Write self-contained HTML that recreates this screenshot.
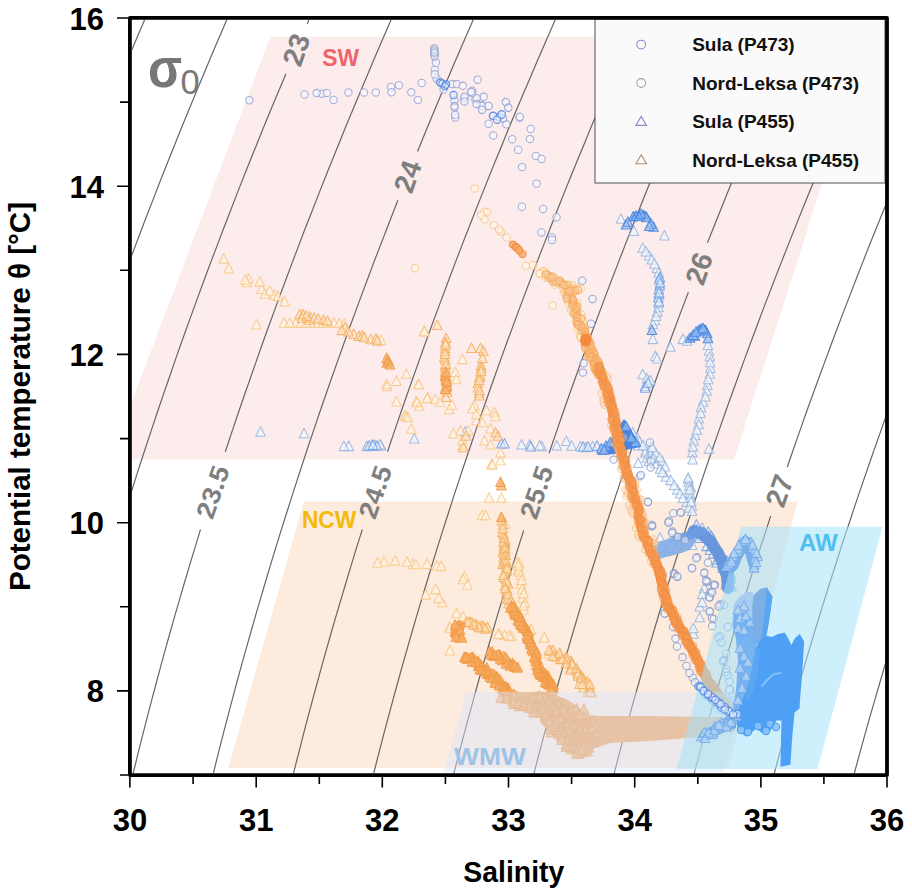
<!DOCTYPE html><html><head><meta charset="utf-8"><style>html,body{margin:0;padding:0;background:#fff;width:912px;height:896px;overflow:hidden}svg{display:block}</style></head><body><svg width="912" height="896" viewBox="0 0 912 896"><defs><clipPath id="pc"><rect x="131.7" y="19.7" width="753.4" height="753.4"/></clipPath></defs>
<g clip-path="url(#pc)">
<polygon points="270.3,36.8 869,36.8 734,459.6 109.7,459.6" fill="#FDECEC"/>
<polygon points="303.8,501.5 797.5,501.5 728.5,768 228.4,768" fill="#FDEBDD"/>
</g>
<g clip-path="url(#pc)" fill="none" stroke="#666" stroke-width="1.2">
<polyline points="149.0,9.6 141.8,26.4 134.6,43.2 127.5,60.1 120.5,76.9 113.5,93.7 106.6,110.5 99.8,127.3 93.0,144.2 86.3,161.0 79.7,177.8 73.2,194.6 66.7,211.5 60.3,228.3 53.9,245.1 47.7,261.9 41.5,278.7 35.4,295.6 29.3,312.4 23.3,329.2 17.4,346.0 11.6,362.9 5.8,379.7 0.1,396.5 -5.5,413.3 -11.0,430.1 -16.5,447.0 -21.9,463.8 -27.2,480.6 -32.5,497.4 -37.6,514.2 -42.7,531.1 -47.7,547.9 -52.7,564.7 -57.6,581.5 -62.3,598.4 -67.1,615.2 -71.7,632.0 -76.3,648.8 -80.7,665.6 -85.1,682.5 -89.5,699.3 -93.7,716.1 -97.9,732.9 -102.0,749.8 -106.0,766.6 -109.9,783.4"/>
<polyline points="231.2,9.6 223.9,26.4 216.7,43.2 209.6,60.1 202.5,76.9 195.5,93.7 188.6,110.5 181.7,127.3 174.9,144.2 168.2,161.0 161.5,177.8 155.0,194.6 148.4,211.5 142.0,228.3 135.6,245.1 129.3,261.9 123.1,278.7 116.9,295.6 110.8,312.4 104.8,329.2 98.8,346.0 93.0,362.9 87.2,379.7 81.4,396.5 75.8,413.3 70.2,430.1 64.7,447.0 59.2,463.8 53.9,480.6 48.6,497.4 43.4,514.2 38.2,531.1 33.2,547.9 28.2,564.7 23.3,581.5 18.4,598.4 13.7,615.2 9.0,632.0 4.4,648.8 -0.2,665.6 -4.6,682.5 -9.0,699.3 -13.3,716.1 -17.5,732.9 -21.7,749.8 -25.7,766.6 -29.7,783.4"/>
<polyline points="313.4,9.6 307.1,24.0"/>
<polyline points="285.9,73.7 284.6,76.9 277.5,93.7 270.5,110.5 263.6,127.3 256.8,144.2 250.0,161.0 243.3,177.8 236.7,194.6 230.2,211.5 223.7,228.3 217.3,245.1 210.9,261.9 204.6,278.7 198.4,295.6 192.3,312.4 186.2,329.2 180.2,346.0 174.3,362.9 168.5,379.7 162.7,396.5 157.0,413.3 151.4,430.1 145.8,447.0 140.3,463.8 134.9,480.6 129.6,497.4 124.3,514.2 119.1,531.1 114.0,547.9 109.0,564.7 104.0,581.5 99.2,598.4 94.3,615.2 89.6,632.0 85.0,648.8 80.4,665.6 75.9,682.5 71.5,699.3 67.1,716.1 62.8,732.9 58.7,749.8 54.5,766.6 50.5,783.4"/>
<polyline points="395.5,9.6 388.2,26.4 380.9,43.2 373.7,60.1 366.6,76.9 359.5,93.7 352.5,110.5 345.5,127.3 338.7,144.2 331.9,161.0 325.1,177.8 318.5,194.6 311.9,211.5 305.3,228.3 298.9,245.1 292.5,261.9 286.2,278.7 279.9,295.6 273.8,312.4 267.6,329.2 261.6,346.0 255.7,362.9 249.8,379.7 243.9,396.5 238.2,413.3 232.5,430.1 226.9,447.0 225.3,451.8"/>
<polyline points="200.5,529.5 200.0,531.1 194.9,547.9 189.8,564.7 184.8,581.5 179.9,598.4 175.0,615.2 170.2,632.0 165.5,648.8 160.9,665.6 156.4,682.5 151.9,699.3 147.5,716.1 143.2,732.9 138.9,749.8 134.8,766.6 130.7,783.4"/>
<polyline points="477.6,9.6 470.3,26.4 463.0,43.2 455.7,60.1 448.5,76.9 441.4,93.7 434.4,110.5 427.4,127.3 420.5,144.2 417.5,151.6"/>
<polyline points="397.9,200.3 393.5,211.5 387.0,228.3 380.5,245.1 374.0,261.9 367.7,278.7 361.4,295.6 355.2,312.4 349.0,329.2 343.0,346.0 337.0,362.9 331.0,379.7 325.2,396.5 319.4,413.3 313.7,430.1 308.0,447.0 302.5,463.8 297.0,480.6 291.6,497.4 286.2,514.2 280.9,531.1 275.7,547.9 270.6,564.7 265.6,581.5 260.6,598.4 255.7,615.2 250.9,632.0 246.1,648.8 241.4,665.6 236.8,682.5 232.3,699.3 227.9,716.1 223.5,732.9 219.2,749.8 215.0,766.6 210.9,783.4"/>
<polyline points="559.7,9.6 552.3,26.4 545.0,43.2 537.7,60.1 530.5,76.9 523.3,93.7 516.2,110.5 509.2,127.3 502.3,144.2 495.4,161.0 488.6,177.8 481.9,194.6 475.2,211.5 468.6,228.3 462.0,245.1 455.6,261.9 449.2,278.7 442.9,295.6 436.6,312.4 430.4,329.2 424.3,346.0 418.3,362.9 412.3,379.7 406.4,396.5 400.6,413.3 394.8,430.1 389.1,447.0 387.5,451.8"/>
<polyline points="362.3,529.5 361.8,531.1 356.5,547.9 351.4,564.7 346.3,581.5 341.3,598.4 336.3,615.2 331.4,632.0 326.6,648.8 321.9,665.6 317.3,682.5 312.7,699.3 308.2,716.1 303.8,732.9 299.5,749.8 295.2,766.6 291.0,783.4"/>
<polyline points="641.8,9.6 634.4,26.4 627.0,43.2 619.7,60.1 612.4,76.9 605.2,93.7 598.1,110.5 591.0,127.3 584.1,144.2 577.1,161.0 570.3,177.8 563.5,194.6 556.8,211.5 550.2,228.3 543.6,245.1 537.1,261.9 530.7,278.7 524.3,295.6 518.0,312.4 511.8,329.2 505.6,346.0 499.5,362.9 493.5,379.7 487.6,396.5 481.7,413.3 475.9,430.1 470.2,447.0 464.5,463.8 458.9,480.6 453.4,497.4 448.0,514.2 442.6,531.1 437.3,547.9 432.1,564.7 427.0,581.5 421.9,598.4 416.9,615.2 412.0,632.0 407.2,648.8 402.4,665.6 397.7,682.5 393.1,699.3 388.6,716.1 384.1,732.9 379.7,749.8 375.4,766.6 371.2,783.4"/>
<polyline points="723.8,9.6 716.4,26.4 708.9,43.2 701.6,60.1 694.3,76.9 687.1,93.7 679.9,110.5 672.8,127.3 665.8,144.2 658.9,161.0 652.0,177.8 645.2,194.6 638.4,211.5 631.7,228.3 625.1,245.1 618.6,261.9 612.1,278.7 605.7,295.6 599.4,312.4 593.1,329.2 586.9,346.0 580.8,362.9 574.7,379.7 568.7,396.5 562.8,413.3 557.0,430.1 551.2,447.0 549.1,453.2"/>
<polyline points="523.7,530.4 523.5,531.1 518.1,547.9 512.9,564.7 507.7,581.5 502.6,598.4 497.5,615.2 492.6,632.0 487.7,648.8 482.9,665.6 478.1,682.5 473.5,699.3 468.9,716.1 464.4,732.9 459.9,749.8 455.6,766.6 451.3,783.4"/>
<polyline points="805.9,9.6 798.3,26.4 790.9,43.2 783.5,60.1 776.2,76.9 768.9,93.7 761.7,110.5 754.6,127.3 747.5,144.2 740.5,161.0 733.6,177.8 726.8,194.6 720.0,211.5 713.3,228.3 707.5,242.8"/>
<polyline points="688.4,292.2 687.1,295.6 680.7,312.4 674.4,329.2 668.2,346.0 662.0,362.9 655.9,379.7 649.9,396.5 643.9,413.3 638.0,430.1 632.2,447.0 626.5,463.8 620.8,480.6 615.2,497.4 609.7,514.2 604.2,531.1 598.9,547.9 593.6,564.7 588.3,581.5 583.2,598.4 578.1,615.2 573.1,632.0 568.2,648.8 563.3,665.6 558.5,682.5 553.8,699.3 549.2,716.1 544.6,732.9 540.1,749.8 535.7,766.6 531.4,783.4"/>
<polyline points="887.8,9.6 880.3,26.4 872.8,43.2 865.4,60.1 858.0,76.9 850.7,93.7 843.5,110.5 836.3,127.3 829.2,144.2 822.2,161.0 815.3,177.8 808.4,194.6 801.5,211.5 794.8,228.3 788.1,245.1 781.5,261.9 774.9,278.7 768.4,295.6 762.0,312.4 755.7,329.2 749.4,346.0 743.2,362.9 737.1,379.7 731.0,396.5 725.0,413.3 719.1,430.1 713.2,447.0 707.4,463.8 701.7,480.6 696.1,497.4 690.5,514.2 685.0,531.1 679.6,547.9 674.3,564.7 669.0,581.5 663.8,598.4 658.6,615.2 653.6,632.0 648.6,648.8 643.7,665.6 638.9,682.5 634.1,699.3 629.4,716.1 624.8,732.9 620.3,749.8 615.9,766.6 611.5,783.4"/>
<polyline points="969.8,9.6 962.2,26.4 954.7,43.2 947.2,60.1 939.8,76.9 932.5,93.7 925.2,110.5 918.0,127.3 910.9,144.2 903.8,161.0 896.9,177.8 889.9,194.6 883.1,211.5 876.3,228.3 869.5,245.1 862.9,261.9 856.3,278.7 849.8,295.6 843.3,312.4 836.9,329.2 830.6,346.0 824.4,362.9 818.2,379.7 812.1,396.5 806.0,413.3 800.1,430.1 794.2,447.0 788.4,463.8 787.2,467.1"/>
<polyline points="770.6,516.3 765.8,531.1 760.3,547.9 754.9,564.7 749.6,581.5 744.4,598.4 739.2,615.2 734.1,632.0 729.1,648.8 724.1,665.6 719.2,682.5 714.4,699.3 709.7,716.1 705.0,732.9 700.5,749.8 696.0,766.6 691.5,783.4"/>
<polyline points="1051.7,9.6 1044.1,26.4 1036.5,43.2 1029.0,60.1 1021.6,76.9 1014.3,93.7 1007.0,110.5 999.7,127.3 992.6,144.2 985.5,161.0 978.4,177.8 971.5,194.6 964.6,211.5 957.7,228.3 951.0,245.1 944.3,261.9 937.6,278.7 931.1,295.6 924.6,312.4 918.2,329.2 911.8,346.0 905.5,362.9 899.3,379.7 893.1,396.5 887.1,413.3 881.1,430.1 875.1,447.0 869.3,463.8 863.5,480.6 857.7,497.4 852.1,514.2 846.5,531.1 841.0,547.9 835.6,564.7 830.2,581.5 824.9,598.4 819.7,615.2 814.5,632.0 809.5,648.8 804.5,665.6 799.5,682.5 794.7,699.3 789.9,716.1 785.2,732.9 780.6,749.8 776.1,766.6 771.6,783.4"/>
<polyline points="1133.6,9.6 1126.0,26.4 1118.4,43.2 1110.8,60.1 1103.4,76.9 1096.0,93.7 1088.6,110.5 1081.4,127.3 1074.2,144.2 1067.0,161.0 1060.0,177.8 1053.0,194.6 1046.0,211.5 1039.2,228.3 1032.4,245.1 1025.6,261.9 1019.0,278.7 1012.4,295.6 1005.8,312.4 999.4,329.2 993.0,346.0 986.6,362.9 980.4,379.7 974.2,396.5 968.1,413.3 962.0,430.1 956.0,447.0 950.1,463.8 944.3,480.6 938.5,497.4 932.8,514.2 927.2,531.1 921.7,547.9 916.2,564.7 910.8,581.5 905.4,598.4 900.2,615.2 895.0,632.0 889.9,648.8 884.8,665.6 879.9,682.5 875.0,699.3 870.1,716.1 865.4,732.9 860.7,749.8 856.1,766.6 851.6,783.4"/>
</g>
<g clip-path="url(#pc)"><path d="M260.5,426.8l4.8,9.5h-9.6zM348.8,441.1l4.8,9.5h-9.6zM375.1,440.1l4.8,9.5h-9.6zM381.0,440.4l4.8,9.5h-9.6zM529.7,439.4l4.8,9.5h-9.6zM541.8,441.3l4.8,9.5h-9.6zM580.4,441.3l4.8,9.5h-9.6zM604.9,443.9l4.8,9.5h-9.6zM645.3,447.4l4.8,9.5h-9.6zM638.2,458.0l4.8,9.5h-9.6zM664.4,230.4l4.8,9.5h-9.6zM649.1,250.4l4.8,9.5h-9.6zM657.0,263.1l4.8,9.5h-9.6zM658.6,302.3l4.8,9.5h-9.6zM655.0,315.3l4.8,9.5h-9.6zM670.4,341.7l4.8,9.5h-9.6zM642.7,369.3l4.8,9.5h-9.6zM682.9,334.1l4.8,9.5h-9.6zM709.0,345.7l4.8,9.5h-9.6zM710.4,363.0l4.8,9.5h-9.6zM707.4,380.0l4.8,9.5h-9.6zM703.1,396.7l4.8,9.5h-9.6zM698.9,413.4l4.8,9.5h-9.6zM695.2,430.2l4.8,9.5h-9.6zM692.3,447.3l4.8,9.5h-9.6zM688.2,473.8l4.8,9.5h-9.6zM637.2,432.3l4.8,9.5h-9.6zM645.8,445.5l4.8,9.5h-9.6zM655.8,458.5l4.8,9.5h-9.6zM665.9,471.8l4.8,9.5h-9.6zM677.3,484.6l4.8,9.5h-9.6zM686.7,497.0l4.8,9.5h-9.6zM651.3,441.9l4.8,9.5h-9.6zM662.1,455.8l4.8,9.5h-9.6zM688.6,476.7l4.8,9.5h-9.6zM689.9,488.6l4.8,9.5h-9.6zM691.7,500.5l4.8,9.5h-9.6zM695.2,523.8l4.8,9.5h-9.6zM704.2,583.1l4.8,9.5h-9.6zM699.7,601.4l4.8,9.5h-9.6zM693.4,628.7l4.8,9.5h-9.6z" fill="#f0f6fd" fill-opacity="0.7" stroke="#98B4DC" stroke-opacity="0.85" stroke-width="1.05" stroke-linejoin="round"/>
<path d="M304.0,428.2l4.8,9.5h-9.6zM366.8,441.1l4.8,9.5h-9.6zM380.0,439.5l4.8,9.5h-9.6zM465.4,426.4l4.8,9.5h-9.6zM539.7,440.4l4.8,9.5h-9.6zM566.3,436.0l4.8,9.5h-9.6zM585.6,442.2l4.8,9.5h-9.6zM638.2,440.4l4.8,9.5h-9.6zM647.0,452.7l4.8,9.5h-9.6zM620.9,213.7l4.8,9.5h-9.6zM642.7,242.7l4.8,9.5h-9.6zM651.9,254.5l4.8,9.5h-9.6zM658.7,267.8l4.8,9.5h-9.6zM657.3,306.6l4.8,9.5h-9.6zM653.0,319.3l4.8,9.5h-9.6zM655.3,350.9l4.8,9.5h-9.6zM646.9,373.5l4.8,9.5h-9.6zM687.1,335.8l4.8,9.5h-9.6zM709.8,351.5l4.8,9.5h-9.6zM709.8,368.7l4.8,9.5h-9.6zM706.7,385.8l4.8,9.5h-9.6zM701.1,402.1l4.8,9.5h-9.6zM698.7,419.2l4.8,9.5h-9.6zM693.8,435.8l4.8,9.5h-9.6zM708.9,443.8l4.8,9.5h-9.6zM690.9,482.5l4.8,9.5h-9.6zM639.5,436.7l4.8,9.5h-9.6zM650.5,449.8l4.8,9.5h-9.6zM660.1,463.7l4.8,9.5h-9.6zM670.6,475.1l4.8,9.5h-9.6zM680.1,488.4l4.8,9.5h-9.6zM688.9,502.6l4.8,9.5h-9.6zM655.3,447.4l4.8,9.5h-9.6zM665.1,461.4l4.8,9.5h-9.6zM689.1,480.7l4.8,9.5h-9.6zM690.4,492.6l4.8,9.5h-9.6zM660.0,532.8l4.8,9.5h-9.6zM702.2,522.8l4.8,9.5h-9.6zM702.2,589.1l4.8,9.5h-9.6zM699.7,612.3l4.8,9.5h-9.6z" fill="#f0f6fd" fill-opacity="0.7" stroke="#98B4DC" stroke-opacity="0.85" stroke-width="1.05" stroke-linejoin="round"/>
<path d="M343.8,441.1l4.8,9.5h-9.6zM371.8,440.1l4.8,9.5h-9.6zM414.2,433.4l4.8,9.5h-9.6zM521.6,439.4l4.8,9.5h-9.6zM556.8,440.4l4.8,9.5h-9.6zM571.6,440.8l4.8,9.5h-9.6zM592.6,441.3l4.8,9.5h-9.6zM652.3,442.2l4.8,9.5h-9.6zM648.8,456.2l4.8,9.5h-9.6zM633.9,226.0l4.8,9.5h-9.6zM645.9,246.5l4.8,9.5h-9.6zM654.5,258.7l4.8,9.5h-9.6zM658.6,297.8l4.8,9.5h-9.6zM656.1,310.9l4.8,9.5h-9.6zM652.8,334.1l4.8,9.5h-9.6zM657.0,353.4l4.8,9.5h-9.6zM650.3,375.2l4.8,9.5h-9.6zM708.0,340.0l4.8,9.5h-9.6zM710.1,357.2l4.8,9.5h-9.6zM708.2,374.3l4.8,9.5h-9.6zM705.4,391.4l4.8,9.5h-9.6zM700.6,407.9l4.8,9.5h-9.6zM696.9,424.7l4.8,9.5h-9.6zM693.0,441.6l4.8,9.5h-9.6zM692.6,454.4l4.8,9.5h-9.6zM632.7,427.4l4.8,9.5h-9.6zM643.0,440.3l4.8,9.5h-9.6zM653.7,453.3l4.8,9.5h-9.6zM662.4,467.1l4.8,9.5h-9.6zM674.2,480.0l4.8,9.5h-9.6zM682.8,493.0l4.8,9.5h-9.6zM692.1,506.0l4.8,9.5h-9.6zM659.7,452.3l4.8,9.5h-9.6zM688.2,472.7l4.8,9.5h-9.6zM689.5,484.6l4.8,9.5h-9.6zM691.1,496.5l4.8,9.5h-9.6zM673.1,535.9l4.8,9.5h-9.6zM692.2,539.9l4.8,9.5h-9.6zM702.2,597.1l4.8,9.5h-9.6zM693.4,623.2l4.8,9.5h-9.6z" fill="#f0f6fd" fill-opacity="0.7" stroke="#98B4DC" stroke-opacity="0.85" stroke-width="1.05" stroke-linejoin="round"/>
<path d="M530.7,441.4l4.8,9.5h-9.6zM377.0,440.8l4.8,9.5h-9.6zM583.0,441.8l4.8,9.5h-9.6zM659.8,272.1l4.8,9.5h-9.6zM659.8,280.3l4.8,9.5h-9.6zM659.2,289.2l4.8,9.5h-9.6zM645.2,381.0l4.8,9.5h-9.6zM655.4,543.9l4.8,9.5h-9.6zM665.5,545.9l4.8,9.5h-9.6zM672.8,539.3l4.8,9.5h-9.6zM681.0,535.3l4.8,9.5h-9.6zM689.4,528.1l4.8,9.5h-9.6zM696.8,529.5l4.8,9.5h-9.6zM708.2,526.8l4.8,9.5h-9.6zM712.9,533.5l4.8,9.5h-9.6zM709.9,545.0l4.8,9.5h-9.6zM718.8,548.1l4.8,9.5h-9.6zM716.5,557.5l4.8,9.5h-9.6zM722.8,562.7l4.8,9.5h-9.6zM730.6,568.2l4.8,9.5h-9.6zM726.3,576.8l4.8,9.5h-9.6z" fill="#e4eefb" fill-opacity="0.6" stroke="#6C9EE4" stroke-opacity="0.85" stroke-width="1.05" stroke-linejoin="round"/>
<path d="M369.0,440.8l4.8,9.5h-9.6zM501.5,438.4l4.8,9.5h-9.6zM588.0,441.8l4.8,9.5h-9.6zM659.3,274.2l4.8,9.5h-9.6zM658.9,284.1l4.8,9.5h-9.6zM658.3,292.5l4.8,9.5h-9.6zM645.2,382.7l4.8,9.5h-9.6zM658.2,542.9l4.8,9.5h-9.6zM667.6,542.6l4.8,9.5h-9.6zM677.2,542.9l4.8,9.5h-9.6zM685.2,538.8l4.8,9.5h-9.6zM696.4,519.6l4.8,9.5h-9.6zM698.3,530.7l4.8,9.5h-9.6zM708.0,530.7l4.8,9.5h-9.6zM706.7,541.1l4.8,9.5h-9.6zM716.9,543.4l4.8,9.5h-9.6zM721.9,549.5l4.8,9.5h-9.6zM726.8,555.7l4.8,9.5h-9.6zM728.1,563.5l4.8,9.5h-9.6zM730.6,571.2l4.8,9.5h-9.6zM725.9,579.4l4.8,9.5h-9.6z" fill="#e4eefb" fill-opacity="0.6" stroke="#6C9EE4" stroke-opacity="0.85" stroke-width="1.05" stroke-linejoin="round"/>
<path d="M373.0,439.8l4.8,9.5h-9.6zM504.5,438.4l4.8,9.5h-9.6zM597.0,440.8l4.8,9.5h-9.6zM660.1,277.4l4.8,9.5h-9.6zM659.0,287.4l4.8,9.5h-9.6zM658.9,296.4l4.8,9.5h-9.6zM648.0,377.8l4.8,9.5h-9.6zM660.8,541.3l4.8,9.5h-9.6zM669.8,539.7l4.8,9.5h-9.6zM678.8,538.3l4.8,9.5h-9.6zM687.7,536.8l4.8,9.5h-9.6zM696.6,524.8l4.8,9.5h-9.6zM699.3,532.9l4.8,9.5h-9.6zM711.3,530.8l4.8,9.5h-9.6zM712.0,540.6l4.8,9.5h-9.6zM713.3,548.6l4.8,9.5h-9.6zM717.3,554.4l4.8,9.5h-9.6zM722.3,560.2l4.8,9.5h-9.6zM727.2,566.5l4.8,9.5h-9.6zM730.2,574.0l4.8,9.5h-9.6zM731.5,581.4l4.8,9.5h-9.6z" fill="#e4eefb" fill-opacity="0.6" stroke="#6C9EE4" stroke-opacity="0.85" stroke-width="1.05" stroke-linejoin="round"/>
<polygon points="597.0,455.0 606.0,444.0 614.0,436.0 620.0,425.0 624.0,419.0 629.0,426.0 636.0,438.0 641.0,447.0 630.0,449.0 615.0,454.0" fill="#4A86E0" fill-opacity="1.0"/>
<polygon points="628.0,221.0 634.0,212.0 646.0,211.0 652.0,220.0 640.0,221.0" fill="#5A8EE2" fill-opacity="1.0"/>
<polygon points="686.0,340.0 698.0,326.0 706.0,325.0 711.0,336.0 700.0,334.0 690.0,343.0" fill="#4C8AE4" fill-opacity="1.0"/>
<polygon points="653.0,546.0 662.0,541.0 672.0,537.0 684.0,532.0 692.0,530.0 696.0,540.0 690.0,550.0 678.0,554.0 666.0,557.0 656.0,560.0" fill="#86AEE6" fill-opacity="0.9"/>
<polyline points="694.0,531.0 702.0,534.0 710.0,541.0 718.0,553.0 723.0,564.0 727.0,576.0 728.0,588.0" fill="none" stroke="#6494DC" stroke-opacity="0.95" stroke-width="12" stroke-linejoin="round" stroke-linecap="round"/>
<polyline points="684.0,538.0 694.0,533.0 702.0,531.0" fill="none" stroke="#6E9CE0" stroke-opacity="0.9" stroke-width="9" stroke-linejoin="round" stroke-linecap="round"/>
<path d="M601.4,443.4l4.8,9.5h-9.6zM614.0,436.8l4.8,9.5h-9.6zM635.6,436.9l4.8,9.5h-9.6zM626.0,219.5l4.8,9.5h-9.6zM643.4,210.0l4.8,9.5h-9.6zM653.5,221.7l4.8,9.5h-9.6zM628.0,216.8l4.8,9.5h-9.6zM690.0,332.8l4.8,9.5h-9.6zM698.8,324.9l4.8,9.5h-9.6zM705.0,324.8l4.8,9.5h-9.6zM695.0,330.8l4.8,9.5h-9.6z" fill="#9cc0f2" fill-opacity="0.7" stroke="#4A86E0" stroke-opacity="0.9" stroke-width="1.05" stroke-linejoin="round"/>
<path d="M606.0,440.8l4.8,9.5h-9.6zM626.0,421.1l4.8,9.5h-9.6zM620.0,434.8l4.8,9.5h-9.6zM633.2,211.5l4.8,9.5h-9.6zM646.3,212.2l4.8,9.5h-9.6zM636.0,210.8l4.8,9.5h-9.6zM651.0,218.8l4.8,9.5h-9.6zM693.0,329.9l4.8,9.5h-9.6zM701.0,323.8l4.8,9.5h-9.6zM707.2,328.3l4.8,9.5h-9.6zM700.0,325.8l4.8,9.5h-9.6z" fill="#9cc0f2" fill-opacity="0.7" stroke="#4A86E0" stroke-opacity="0.9" stroke-width="1.05" stroke-linejoin="round"/>
<path d="M610.2,437.2l4.8,9.5h-9.6zM631.2,432.5l4.8,9.5h-9.6zM604.0,444.8l4.8,9.5h-9.6zM639.0,210.8l4.8,9.5h-9.6zM649.2,220.9l4.8,9.5h-9.6zM641.0,208.8l4.8,9.5h-9.6zM651.9,324.9l4.8,9.5h-9.6zM696.0,326.8l4.8,9.5h-9.6zM703.0,323.2l4.8,9.5h-9.6zM708.0,333.3l4.8,9.5h-9.6z" fill="#9cc0f2" fill-opacity="0.7" stroke="#4A86E0" stroke-opacity="0.9" stroke-width="1.05" stroke-linejoin="round"/>
<path d="M245.6,100.2a3.7,3.7 0 1,0 7.4,0a3.7,3.7 0 1,0-7.4,0M318.4,93.7a3.7,3.7 0 1,0 7.4,0a3.7,3.7 0 1,0-7.4,0M344.7,92.4a3.7,3.7 0 1,0 7.4,0a3.7,3.7 0 1,0-7.4,0M387.3,86.9a3.7,3.7 0 1,0 7.4,0a3.7,3.7 0 1,0-7.4,0M407.6,92.3a3.7,3.7 0 1,0 7.4,0a3.7,3.7 0 1,0-7.4,0M432.2,62.7a3.7,3.7 0 1,0 7.4,0a3.7,3.7 0 1,0-7.4,0M432.8,78.6a3.7,3.7 0 1,0 7.4,0a3.7,3.7 0 1,0-7.4,0M448.7,84.1a3.7,3.7 0 1,0 7.4,0a3.7,3.7 0 1,0-7.4,0M450.9,100.6a3.7,3.7 0 1,0 7.4,0a3.7,3.7 0 1,0-7.4,0M451.6,117.5a3.7,3.7 0 1,0 7.4,0a3.7,3.7 0 1,0-7.4,0M473.9,79.7a3.7,3.7 0 1,0 7.4,0a3.7,3.7 0 1,0-7.4,0M460.7,98.4a3.7,3.7 0 1,0 7.4,0a3.7,3.7 0 1,0-7.4,0M468.5,90.7a3.7,3.7 0 1,0 7.4,0a3.7,3.7 0 1,0-7.4,0M480.0,96.8a3.7,3.7 0 1,0 7.4,0a3.7,3.7 0 1,0-7.4,0M484.6,106.0a3.7,3.7 0 1,0 7.4,0a3.7,3.7 0 1,0-7.4,0M502.3,102.2a3.7,3.7 0 1,0 7.4,0a3.7,3.7 0 1,0-7.4,0M478.3,105.3a3.7,3.7 0 1,0 7.4,0a3.7,3.7 0 1,0-7.4,0M502.0,102.0a3.7,3.7 0 1,0 7.4,0a3.7,3.7 0 1,0-7.4,0M502.6,124.3a3.7,3.7 0 1,0 7.4,0a3.7,3.7 0 1,0-7.4,0M489.5,135.5a3.7,3.7 0 1,0 7.4,0a3.7,3.7 0 1,0-7.4,0M514.5,149.7a3.7,3.7 0 1,0 7.4,0a3.7,3.7 0 1,0-7.4,0M518.4,167.1a3.7,3.7 0 1,0 7.4,0a3.7,3.7 0 1,0-7.4,0M539.4,208.9a3.7,3.7 0 1,0 7.4,0a3.7,3.7 0 1,0-7.4,0M548.3,237.4a3.7,3.7 0 1,0 7.4,0a3.7,3.7 0 1,0-7.4,0" fill="#f4f6fd" fill-opacity="0.7" stroke="#96A2D2" stroke-opacity="0.85" stroke-width="1.05" stroke-linejoin="round"/>
<path d="M300.9,94.4a3.7,3.7 0 1,0 7.4,0a3.7,3.7 0 1,0-7.4,0M323.2,92.9a3.7,3.7 0 1,0 7.4,0a3.7,3.7 0 1,0-7.4,0M360.3,92.4a3.7,3.7 0 1,0 7.4,0a3.7,3.7 0 1,0-7.4,0M387.8,92.3a3.7,3.7 0 1,0 7.4,0a3.7,3.7 0 1,0-7.4,0M414.1,100.0a3.7,3.7 0 1,0 7.4,0a3.7,3.7 0 1,0-7.4,0M431.1,69.9a3.7,3.7 0 1,0 7.4,0a3.7,3.7 0 1,0-7.4,0M436.1,81.9a3.7,3.7 0 1,0 7.4,0a3.7,3.7 0 1,0-7.4,0M453.1,84.1a3.7,3.7 0 1,0 7.4,0a3.7,3.7 0 1,0-7.4,0M450.9,106.0a3.7,3.7 0 1,0 7.4,0a3.7,3.7 0 1,0-7.4,0M450.8,107.5a3.7,3.7 0 1,0 7.4,0a3.7,3.7 0 1,0-7.4,0M471.7,99.5a3.7,3.7 0 1,0 7.4,0a3.7,3.7 0 1,0-7.4,0M460.8,96.8a3.7,3.7 0 1,0 7.4,0a3.7,3.7 0 1,0-7.4,0M468.5,93.0a3.7,3.7 0 1,0 7.4,0a3.7,3.7 0 1,0-7.4,0M477.7,106.0a3.7,3.7 0 1,0 7.4,0a3.7,3.7 0 1,0-7.4,0M489.2,116.0a3.7,3.7 0 1,0 7.4,0a3.7,3.7 0 1,0-7.4,0M504.6,107.5a3.7,3.7 0 1,0 7.4,0a3.7,3.7 0 1,0-7.4,0M484.9,105.9a3.7,3.7 0 1,0 7.4,0a3.7,3.7 0 1,0-7.4,0M504.6,107.9a3.7,3.7 0 1,0 7.4,0a3.7,3.7 0 1,0-7.4,0M515.8,117.8a3.7,3.7 0 1,0 7.4,0a3.7,3.7 0 1,0-7.4,0M508.5,139.2a3.7,3.7 0 1,0 7.4,0a3.7,3.7 0 1,0-7.4,0M532.2,155.9a3.7,3.7 0 1,0 7.4,0a3.7,3.7 0 1,0-7.4,0M532.9,183.6a3.7,3.7 0 1,0 7.4,0a3.7,3.7 0 1,0-7.4,0M552.8,217.3a3.7,3.7 0 1,0 7.4,0a3.7,3.7 0 1,0-7.4,0M548.3,240.0a3.7,3.7 0 1,0 7.4,0a3.7,3.7 0 1,0-7.4,0" fill="#f4f6fd" fill-opacity="0.7" stroke="#96A2D2" stroke-opacity="0.85" stroke-width="1.05" stroke-linejoin="round"/>
<path d="M312.9,93.1a3.7,3.7 0 1,0 7.4,0a3.7,3.7 0 1,0-7.4,0M329.8,99.9a3.7,3.7 0 1,0 7.4,0a3.7,3.7 0 1,0-7.4,0M372.1,92.4a3.7,3.7 0 1,0 7.4,0a3.7,3.7 0 1,0-7.4,0M395.2,85.2a3.7,3.7 0 1,0 7.4,0a3.7,3.7 0 1,0-7.4,0M418.0,83.0a3.7,3.7 0 1,0 7.4,0a3.7,3.7 0 1,0-7.4,0M431.1,74.3a3.7,3.7 0 1,0 7.4,0a3.7,3.7 0 1,0-7.4,0M439.9,89.6a3.7,3.7 0 1,0 7.4,0a3.7,3.7 0 1,0-7.4,0M459.1,85.8a3.7,3.7 0 1,0 7.4,0a3.7,3.7 0 1,0-7.4,0M451.4,114.8a3.7,3.7 0 1,0 7.4,0a3.7,3.7 0 1,0-7.4,0M467.3,91.8a3.7,3.7 0 1,0 7.4,0a3.7,3.7 0 1,0-7.4,0M472.8,103.9a3.7,3.7 0 1,0 7.4,0a3.7,3.7 0 1,0-7.4,0M460.8,101.4a3.7,3.7 0 1,0 7.4,0a3.7,3.7 0 1,0-7.4,0M473.1,98.3a3.7,3.7 0 1,0 7.4,0a3.7,3.7 0 1,0-7.4,0M478.5,109.8a3.7,3.7 0 1,0 7.4,0a3.7,3.7 0 1,0-7.4,0M497.7,114.5a3.7,3.7 0 1,0 7.4,0a3.7,3.7 0 1,0-7.4,0M516.1,116.8a3.7,3.7 0 1,0 7.4,0a3.7,3.7 0 1,0-7.4,0M478.3,109.9a3.7,3.7 0 1,0 7.4,0a3.7,3.7 0 1,0-7.4,0M484.9,123.7a3.7,3.7 0 1,0 7.4,0a3.7,3.7 0 1,0-7.4,0M527.0,128.9a3.7,3.7 0 1,0 7.4,0a3.7,3.7 0 1,0-7.4,0M526.3,139.1a3.7,3.7 0 1,0 7.4,0a3.7,3.7 0 1,0-7.4,0M537.9,158.9a3.7,3.7 0 1,0 7.4,0a3.7,3.7 0 1,0-7.4,0M518.2,206.7a3.7,3.7 0 1,0 7.4,0a3.7,3.7 0 1,0-7.4,0M537.7,232.4a3.7,3.7 0 1,0 7.4,0a3.7,3.7 0 1,0-7.4,0" fill="#f4f6fd" fill-opacity="0.7" stroke="#96A2D2" stroke-opacity="0.85" stroke-width="1.05" stroke-linejoin="round"/>
<path d="M430.6,48.4a3.7,3.7 0 1,0 7.4,0a3.7,3.7 0 1,0-7.4,0M430.8,54.5a3.7,3.7 0 1,0 7.4,0a3.7,3.7 0 1,0-7.4,0M495.3,117.0a3.7,3.7 0 1,0 7.4,0a3.7,3.7 0 1,0-7.4,0M587.3,323.7a3.7,3.7 0 1,0 7.4,0a3.7,3.7 0 1,0-7.4,0M646.3,442.5a3.7,3.7 0 1,0 7.4,0a3.7,3.7 0 1,0-7.4,0M610.0,459.6a3.7,3.7 0 1,0 7.4,0a3.7,3.7 0 1,0-7.4,0M669.6,513.2a3.7,3.7 0 1,0 7.4,0a3.7,3.7 0 1,0-7.4,0M668.8,531.6a3.7,3.7 0 1,0 7.4,0a3.7,3.7 0 1,0-7.4,0M644.3,502.0a3.7,3.7 0 1,0 7.4,0a3.7,3.7 0 1,0-7.4,0M647.9,526.0a3.7,3.7 0 1,0 7.4,0a3.7,3.7 0 1,0-7.4,0M693.4,557.3a3.7,3.7 0 1,0 7.4,0a3.7,3.7 0 1,0-7.4,0M700.6,572.5a3.7,3.7 0 1,0 7.4,0a3.7,3.7 0 1,0-7.4,0M707.7,593.0a3.7,3.7 0 1,0 7.4,0a3.7,3.7 0 1,0-7.4,0M705.9,611.8a3.7,3.7 0 1,0 7.4,0a3.7,3.7 0 1,0-7.4,0M670.2,574.3a3.7,3.7 0 1,0 7.4,0a3.7,3.7 0 1,0-7.4,0M669.4,626.9a3.7,3.7 0 1,0 7.4,0a3.7,3.7 0 1,0-7.4,0M678.8,657.3a3.7,3.7 0 1,0 7.4,0a3.7,3.7 0 1,0-7.4,0M689.0,677.7a3.7,3.7 0 1,0 7.4,0a3.7,3.7 0 1,0-7.4,0M699.1,690.9a3.7,3.7 0 1,0 7.4,0a3.7,3.7 0 1,0-7.4,0M713.2,705.0a3.7,3.7 0 1,0 7.4,0a3.7,3.7 0 1,0-7.4,0M703.8,581.6a3.7,3.7 0 1,0 7.4,0a3.7,3.7 0 1,0-7.4,0M706.1,597.2a3.7,3.7 0 1,0 7.4,0a3.7,3.7 0 1,0-7.4,0M708.5,626.1a3.7,3.7 0 1,0 7.4,0a3.7,3.7 0 1,0-7.4,0M722.6,653.4a3.7,3.7 0 1,0 7.4,0a3.7,3.7 0 1,0-7.4,0M724.1,675.3a3.7,3.7 0 1,0 7.4,0a3.7,3.7 0 1,0-7.4,0M728.8,695.6a3.7,3.7 0 1,0 7.4,0a3.7,3.7 0 1,0-7.4,0M716.3,605.8a3.7,3.7 0 1,0 7.4,0a3.7,3.7 0 1,0-7.4,0M716.3,636.0a3.7,3.7 0 1,0 7.4,0a3.7,3.7 0 1,0-7.4,0M726.3,690.0a3.7,3.7 0 1,0 7.4,0a3.7,3.7 0 1,0-7.4,0M664.9,522.5a3.7,3.7 0 1,0 7.4,0a3.7,3.7 0 1,0-7.4,0M681.4,540.1a3.7,3.7 0 1,0 7.4,0a3.7,3.7 0 1,0-7.4,0M700.5,573.2a3.7,3.7 0 1,0 7.4,0a3.7,3.7 0 1,0-7.4,0M706.5,592.3a3.7,3.7 0 1,0 7.4,0a3.7,3.7 0 1,0-7.4,0M670.4,573.2a3.7,3.7 0 1,0 7.4,0a3.7,3.7 0 1,0-7.4,0" fill="#eef3fd" fill-opacity="0.5" stroke="#8698C8" stroke-opacity="0.8" stroke-width="1.05" stroke-linejoin="round"/>
<path d="M430.6,50.5a3.7,3.7 0 1,0 7.4,0a3.7,3.7 0 1,0-7.4,0M430.9,56.5a3.7,3.7 0 1,0 7.4,0a3.7,3.7 0 1,0-7.4,0M578.5,280.8a3.7,3.7 0 1,0 7.4,0a3.7,3.7 0 1,0-7.4,0M579.9,363.2a3.7,3.7 0 1,0 7.4,0a3.7,3.7 0 1,0-7.4,0M647.3,461.5a3.7,3.7 0 1,0 7.4,0a3.7,3.7 0 1,0-7.4,0M636.3,476.3a3.7,3.7 0 1,0 7.4,0a3.7,3.7 0 1,0-7.4,0M665.3,521.0a3.7,3.7 0 1,0 7.4,0a3.7,3.7 0 1,0-7.4,0M676.7,512.3a3.7,3.7 0 1,0 7.4,0a3.7,3.7 0 1,0-7.4,0M677.3,512.7a3.7,3.7 0 1,0 7.4,0a3.7,3.7 0 1,0-7.4,0M668.4,533.2a3.7,3.7 0 1,0 7.4,0a3.7,3.7 0 1,0-7.4,0M688.1,568.0a3.7,3.7 0 1,0 7.4,0a3.7,3.7 0 1,0-7.4,0M702.4,581.4a3.7,3.7 0 1,0 7.4,0a3.7,3.7 0 1,0-7.4,0M705.9,597.5a3.7,3.7 0 1,0 7.4,0a3.7,3.7 0 1,0-7.4,0M661.3,613.6a3.7,3.7 0 1,0 7.4,0a3.7,3.7 0 1,0-7.4,0M658.6,574.3a3.7,3.7 0 1,0 7.4,0a3.7,3.7 0 1,0-7.4,0M671.8,638.6a3.7,3.7 0 1,0 7.4,0a3.7,3.7 0 1,0-7.4,0M682.7,666.0a3.7,3.7 0 1,0 7.4,0a3.7,3.7 0 1,0-7.4,0M691.3,682.3a3.7,3.7 0 1,0 7.4,0a3.7,3.7 0 1,0-7.4,0M703.8,695.6a3.7,3.7 0 1,0 7.4,0a3.7,3.7 0 1,0-7.4,0M717.9,709.7a3.7,3.7 0 1,0 7.4,0a3.7,3.7 0 1,0-7.4,0M710.1,584.7a3.7,3.7 0 1,0 7.4,0a3.7,3.7 0 1,0-7.4,0M706.1,611.3a3.7,3.7 0 1,0 7.4,0a3.7,3.7 0 1,0-7.4,0M714.7,637.8a3.7,3.7 0 1,0 7.4,0a3.7,3.7 0 1,0-7.4,0M719.4,661.3a3.7,3.7 0 1,0 7.4,0a3.7,3.7 0 1,0-7.4,0M725.7,681.6a3.7,3.7 0 1,0 7.4,0a3.7,3.7 0 1,0-7.4,0M732.3,703.0a3.7,3.7 0 1,0 7.4,0a3.7,3.7 0 1,0-7.4,0M720.2,605.0a3.7,3.7 0 1,0 7.4,0a3.7,3.7 0 1,0-7.4,0M720.3,660.0a3.7,3.7 0 1,0 7.4,0a3.7,3.7 0 1,0-7.4,0M730.3,700.0a3.7,3.7 0 1,0 7.4,0a3.7,3.7 0 1,0-7.4,0M668.4,533.0a3.7,3.7 0 1,0 7.4,0a3.7,3.7 0 1,0-7.4,0M692.5,558.2a3.7,3.7 0 1,0 7.4,0a3.7,3.7 0 1,0-7.4,0M702.5,580.2a3.7,3.7 0 1,0 7.4,0a3.7,3.7 0 1,0-7.4,0M705.5,597.3a3.7,3.7 0 1,0 7.4,0a3.7,3.7 0 1,0-7.4,0M716.6,604.3a3.7,3.7 0 1,0 7.4,0a3.7,3.7 0 1,0-7.4,0" fill="#eef3fd" fill-opacity="0.5" stroke="#8698C8" stroke-opacity="0.8" stroke-width="1.05" stroke-linejoin="round"/>
<path d="M430.8,52.5a3.7,3.7 0 1,0 7.4,0a3.7,3.7 0 1,0-7.4,0M499.3,118.4a3.7,3.7 0 1,0 7.4,0a3.7,3.7 0 1,0-7.4,0M588.8,298.9a3.7,3.7 0 1,0 7.4,0a3.7,3.7 0 1,0-7.4,0M579.2,372.6a3.7,3.7 0 1,0 7.4,0a3.7,3.7 0 1,0-7.4,0M637.3,475.0a3.7,3.7 0 1,0 7.4,0a3.7,3.7 0 1,0-7.4,0M644.2,501.8a3.7,3.7 0 1,0 7.4,0a3.7,3.7 0 1,0-7.4,0M648.6,526.3a3.7,3.7 0 1,0 7.4,0a3.7,3.7 0 1,0-7.4,0M646.8,467.5a3.7,3.7 0 1,0 7.4,0a3.7,3.7 0 1,0-7.4,0M664.9,522.5a3.7,3.7 0 1,0 7.4,0a3.7,3.7 0 1,0-7.4,0M673.8,536.8a3.7,3.7 0 1,0 7.4,0a3.7,3.7 0 1,0-7.4,0M704.2,562.7a3.7,3.7 0 1,0 7.4,0a3.7,3.7 0 1,0-7.4,0M711.3,585.0a3.7,3.7 0 1,0 7.4,0a3.7,3.7 0 1,0-7.4,0M714.9,606.4a3.7,3.7 0 1,0 7.4,0a3.7,3.7 0 1,0-7.4,0M673.8,577.0a3.7,3.7 0 1,0 7.4,0a3.7,3.7 0 1,0-7.4,0M660.8,613.6a3.7,3.7 0 1,0 7.4,0a3.7,3.7 0 1,0-7.4,0M673.3,646.4a3.7,3.7 0 1,0 7.4,0a3.7,3.7 0 1,0-7.4,0M685.8,673.0a3.7,3.7 0 1,0 7.4,0a3.7,3.7 0 1,0-7.4,0M694.4,686.3a3.7,3.7 0 1,0 7.4,0a3.7,3.7 0 1,0-7.4,0M708.5,700.3a3.7,3.7 0 1,0 7.4,0a3.7,3.7 0 1,0-7.4,0M724.1,712.8a3.7,3.7 0 1,0 7.4,0a3.7,3.7 0 1,0-7.4,0M708.5,592.5a3.7,3.7 0 1,0 7.4,0a3.7,3.7 0 1,0-7.4,0M710.1,619.0a3.7,3.7 0 1,0 7.4,0a3.7,3.7 0 1,0-7.4,0M717.9,642.5a3.7,3.7 0 1,0 7.4,0a3.7,3.7 0 1,0-7.4,0M722.6,669.0a3.7,3.7 0 1,0 7.4,0a3.7,3.7 0 1,0-7.4,0M725.7,689.4a3.7,3.7 0 1,0 7.4,0a3.7,3.7 0 1,0-7.4,0M736.3,710.0a3.7,3.7 0 1,0 7.4,0a3.7,3.7 0 1,0-7.4,0M724.1,626.9a3.7,3.7 0 1,0 7.4,0a3.7,3.7 0 1,0-7.4,0M722.3,672.0a3.7,3.7 0 1,0 7.4,0a3.7,3.7 0 1,0-7.4,0M708.3,618.0a3.7,3.7 0 1,0 7.4,0a3.7,3.7 0 1,0-7.4,0M674.4,537.1a3.7,3.7 0 1,0 7.4,0a3.7,3.7 0 1,0-7.4,0M688.5,568.2a3.7,3.7 0 1,0 7.4,0a3.7,3.7 0 1,0-7.4,0M710.6,585.3a3.7,3.7 0 1,0 7.4,0a3.7,3.7 0 1,0-7.4,0M673.4,576.2a3.7,3.7 0 1,0 7.4,0a3.7,3.7 0 1,0-7.4,0M648.3,525.0a3.7,3.7 0 1,0 7.4,0a3.7,3.7 0 1,0-7.4,0" fill="#eef3fd" fill-opacity="0.5" stroke="#8698C8" stroke-opacity="0.8" stroke-width="1.05" stroke-linejoin="round"/>
<path d="M438.8,83.6a3.7,3.7 0 1,0 7.4,0a3.7,3.7 0 1,0-7.4,0M489.5,115.8a3.7,3.7 0 1,0 7.4,0a3.7,3.7 0 1,0-7.4,0M436.8,82.8a3.7,3.7 0 1,0 7.4,0a3.7,3.7 0 1,0-7.4,0M698.7,689.3a3.7,3.7 0 1,0 7.4,0a3.7,3.7 0 1,0-7.4,0M703.9,696.3a3.7,3.7 0 1,0 7.4,0a3.7,3.7 0 1,0-7.4,0M710.8,701.8a3.7,3.7 0 1,0 7.4,0a3.7,3.7 0 1,0-7.4,0M719.7,706.9a3.7,3.7 0 1,0 7.4,0a3.7,3.7 0 1,0-7.4,0M725.8,713.4a3.7,3.7 0 1,0 7.4,0a3.7,3.7 0 1,0-7.4,0" fill="#dfeafb" fill-opacity="0.6" stroke="#4F85E0" stroke-opacity="0.9" stroke-width="1.05" stroke-linejoin="round"/>
<path d="M441.0,86.3a3.7,3.7 0 1,0 7.4,0a3.7,3.7 0 1,0-7.4,0M493.4,119.7a3.7,3.7 0 1,0 7.4,0a3.7,3.7 0 1,0-7.4,0M442.3,84.5a3.7,3.7 0 1,0 7.4,0a3.7,3.7 0 1,0-7.4,0M700.6,692.0a3.7,3.7 0 1,0 7.4,0a3.7,3.7 0 1,0-7.4,0M706.2,697.6a3.7,3.7 0 1,0 7.4,0a3.7,3.7 0 1,0-7.4,0M714.2,705.1a3.7,3.7 0 1,0 7.4,0a3.7,3.7 0 1,0-7.4,0M721.9,709.2a3.7,3.7 0 1,0 7.4,0a3.7,3.7 0 1,0-7.4,0M728.4,714.0a3.7,3.7 0 1,0 7.4,0a3.7,3.7 0 1,0-7.4,0" fill="#dfeafb" fill-opacity="0.6" stroke="#4F85E0" stroke-opacity="0.9" stroke-width="1.05" stroke-linejoin="round"/>
<path d="M449.8,95.1a3.7,3.7 0 1,0 7.4,0a3.7,3.7 0 1,0-7.4,0M498.0,114.5a3.7,3.7 0 1,0 7.4,0a3.7,3.7 0 1,0-7.4,0M695.9,687.3a3.7,3.7 0 1,0 7.4,0a3.7,3.7 0 1,0-7.4,0M701.8,694.4a3.7,3.7 0 1,0 7.4,0a3.7,3.7 0 1,0-7.4,0M709.2,701.1a3.7,3.7 0 1,0 7.4,0a3.7,3.7 0 1,0-7.4,0M716.5,705.8a3.7,3.7 0 1,0 7.4,0a3.7,3.7 0 1,0-7.4,0M722.8,710.7a3.7,3.7 0 1,0 7.4,0a3.7,3.7 0 1,0-7.4,0M732.1,714.7a3.7,3.7 0 1,0 7.4,0a3.7,3.7 0 1,0-7.4,0" fill="#dfeafb" fill-opacity="0.6" stroke="#4F85E0" stroke-opacity="0.9" stroke-width="1.05" stroke-linejoin="round"/>
<polygon points="545.0,710.0 575.0,714.0 600.0,716.0 650.0,716.0 700.0,717.0 735.0,717.0 735.0,731.0 700.0,737.0 650.0,741.0 610.0,743.0 590.0,750.0 578.0,754.0 566.0,748.0 553.0,736.0 540.0,722.0" fill="#F4A458" fill-opacity="1.0"/>
<polygon points="503.0,692.0 530.0,692.0 548.0,692.0 568.0,700.0 585.0,712.0 560.0,718.0 540.0,716.0 520.0,706.0" fill="#F4A458" fill-opacity="1.0"/>
<polyline points="515.0,699.0 545.0,712.0 575.0,727.0" fill="none" stroke="#F4A458" stroke-opacity="1.0" stroke-width="16" stroke-linejoin="round" stroke-linecap="round"/>
<polyline points="550.0,712.0 562.0,730.0 575.0,745.0 586.0,752.0" fill="none" stroke="#F4A458" stroke-opacity="1.0" stroke-width="10" stroke-linejoin="round" stroke-linecap="round"/>
<path d="M223.8,253.6l4.8,9.5h-9.6zM248.4,273.4l4.8,9.5h-9.6zM261.6,283.9l4.8,9.5h-9.6zM274.7,289.8l4.8,9.5h-9.6zM256.6,319.4l4.8,9.5h-9.6zM295.8,317.8l4.8,9.5h-9.6zM311.6,317.8l4.8,9.5h-9.6zM328.7,317.8l4.8,9.5h-9.6zM344.5,318.8l4.8,9.5h-9.6zM396.4,376.0l4.8,9.5h-9.6zM396.4,396.4l4.8,9.5h-9.6zM427.7,392.4l4.8,9.5h-9.6zM411.3,423.7l4.8,9.5h-9.6zM418.2,379.2l4.8,9.5h-9.6zM424.2,325.9l4.8,9.5h-9.6zM435.2,394.2l4.8,9.5h-9.6zM462.4,354.1l4.8,9.5h-9.6zM474.4,400.3l4.8,9.5h-9.6zM476.4,415.3l4.8,9.5h-9.6zM494.5,407.3l4.8,9.5h-9.6zM484.5,435.4l4.8,9.5h-9.6zM491.5,459.5l4.8,9.5h-9.6zM460.4,425.4l4.8,9.5h-9.6zM462.8,440.1l4.8,9.5h-9.6zM501.4,492.7l4.8,9.5h-9.6zM464.6,571.6l4.8,9.5h-9.6zM518.9,557.6l4.8,9.5h-9.6zM384.1,556.7l4.8,9.5h-9.6zM412.6,558.9l4.8,9.5h-9.6zM436.8,560.7l4.8,9.5h-9.6zM425.8,589.6l4.8,9.5h-9.6zM442.2,597.3l4.8,9.5h-9.6zM449.9,621.4l4.8,9.5h-9.6zM480.6,622.5l4.8,9.5h-9.6zM504.7,630.2l4.8,9.5h-9.6zM544.2,632.4l4.8,9.5h-9.6zM546.4,670.8l4.8,9.5h-9.6zM499.2,628.6l4.8,9.5h-9.6zM544.5,632.6l4.8,9.5h-9.6zM518.7,564.6l4.8,9.5h-9.6zM520.8,579.0l4.8,9.5h-9.6zM522.6,593.0l4.8,9.5h-9.6zM523.7,604.8l4.8,9.5h-9.6z" fill="#fff5e4" fill-opacity="0.6" stroke="#F6C47E" stroke-opacity="0.8" stroke-width="1.05" stroke-linejoin="round"/>
<path d="M228.7,263.5l4.8,9.5h-9.6zM246.8,277.3l4.8,9.5h-9.6zM264.9,288.8l4.8,9.5h-9.6zM278.0,291.1l4.8,9.5h-9.6zM284.0,317.8l4.8,9.5h-9.6zM301.0,317.8l4.8,9.5h-9.6zM318.2,317.8l4.8,9.5h-9.6zM334.0,317.8l4.8,9.5h-9.6zM424.4,326.6l4.8,9.5h-9.6zM406.3,368.7l4.8,9.5h-9.6zM416.2,396.4l4.8,9.5h-9.6zM404.7,410.5l4.8,9.5h-9.6zM381.0,335.0l4.8,9.5h-9.6zM406.1,411.3l4.8,9.5h-9.6zM449.3,404.3l4.8,9.5h-9.6zM455.3,367.1l4.8,9.5h-9.6zM440.0,396.8l4.8,9.5h-9.6zM472.4,403.3l4.8,9.5h-9.6zM482.5,417.3l4.8,9.5h-9.6zM495.5,411.3l4.8,9.5h-9.6zM490.5,439.4l4.8,9.5h-9.6zM500.5,455.5l4.8,9.5h-9.6zM462.4,435.4l4.8,9.5h-9.6zM492.6,459.4l4.8,9.5h-9.6zM482.1,510.2l4.8,9.5h-9.6zM440.9,561.1l4.8,9.5h-9.6zM518.9,566.4l4.8,9.5h-9.6zM395.1,555.6l4.8,9.5h-9.6zM415.9,559.4l4.8,9.5h-9.6zM463.1,574.3l4.8,9.5h-9.6zM435.7,584.1l4.8,9.5h-9.6zM456.5,608.3l4.8,9.5h-9.6zM449.9,645.5l4.8,9.5h-9.6zM487.2,623.6l4.8,9.5h-9.6zM511.3,631.3l4.8,9.5h-9.6zM548.6,648.8l4.8,9.5h-9.6zM550.8,677.3l4.8,9.5h-9.6zM509.0,630.6l4.8,9.5h-9.6zM517.1,557.6l4.8,9.5h-9.6zM520.8,570.2l4.8,9.5h-9.6zM522.1,584.0l4.8,9.5h-9.6zM524.8,597.6l4.8,9.5h-9.6z" fill="#fff5e4" fill-opacity="0.6" stroke="#F6C47E" stroke-opacity="0.8" stroke-width="1.05" stroke-linejoin="round"/>
<path d="M245.1,274.7l4.8,9.5h-9.6zM259.9,276.6l4.8,9.5h-9.6zM269.8,285.5l4.8,9.5h-9.6zM284.6,296.4l4.8,9.5h-9.6zM289.9,317.8l4.8,9.5h-9.6zM306.3,317.8l4.8,9.5h-9.6zM323.4,317.8l4.8,9.5h-9.6zM339.2,318.3l4.8,9.5h-9.6zM386.6,379.3l4.8,9.5h-9.6zM418.8,379.3l4.8,9.5h-9.6zM419.5,400.7l4.8,9.5h-9.6zM408.0,412.2l4.8,9.5h-9.6zM387.0,381.2l4.8,9.5h-9.6zM417.2,397.3l4.8,9.5h-9.6zM427.2,393.2l4.8,9.5h-9.6zM456.3,374.2l4.8,9.5h-9.6zM452.0,399.8l4.8,9.5h-9.6zM476.4,409.3l4.8,9.5h-9.6zM486.5,405.3l4.8,9.5h-9.6zM490.5,423.4l4.8,9.5h-9.6zM500.5,447.5l4.8,9.5h-9.6zM453.3,428.4l4.8,9.5h-9.6zM468.4,425.4l4.8,9.5h-9.6zM489.1,492.7l4.8,9.5h-9.6zM485.6,510.2l4.8,9.5h-9.6zM505.0,518.8l4.8,9.5h-9.6zM377.5,557.8l4.8,9.5h-9.6zM407.1,556.7l4.8,9.5h-9.6zM426.9,558.9l4.8,9.5h-9.6zM467.5,579.8l4.8,9.5h-9.6zM438.9,592.9l4.8,9.5h-9.6zM463.1,611.6l4.8,9.5h-9.6zM474.0,619.2l4.8,9.5h-9.6zM498.2,629.1l4.8,9.5h-9.6zM531.0,624.7l4.8,9.5h-9.6zM555.2,648.8l4.8,9.5h-9.6zM449.9,622.7l4.8,9.5h-9.6zM530.7,623.7l4.8,9.5h-9.6zM518.5,560.4l4.8,9.5h-9.6zM521.5,574.9l4.8,9.5h-9.6zM523.5,588.6l4.8,9.5h-9.6zM523.7,600.6l4.8,9.5h-9.6z" fill="#fff5e4" fill-opacity="0.6" stroke="#F6C47E" stroke-opacity="0.8" stroke-width="1.05" stroke-linejoin="round"/>
<path d="M299.7,309.3l4.8,9.5h-9.6zM310.3,311.8l4.8,9.5h-9.6zM323.4,314.8l4.8,9.5h-9.6zM309.0,314.8l4.8,9.5h-9.6zM353.7,329.0l4.8,9.5h-9.6zM370.8,334.3l4.8,9.5h-9.6zM345.0,322.8l4.8,9.5h-9.6zM446.1,333.1l4.8,9.5h-9.6zM445.1,343.2l4.8,9.5h-9.6zM444.2,352.3l4.8,9.5h-9.6zM445.2,360.2l4.8,9.5h-9.6zM445.3,369.8l4.8,9.5h-9.6zM446.9,379.6l4.8,9.5h-9.6zM447.2,387.0l4.8,9.5h-9.6zM480.4,343.0l4.8,9.5h-9.6zM480.9,360.1l4.8,9.5h-9.6zM480.3,370.6l4.8,9.5h-9.6zM477.8,378.0l4.8,9.5h-9.6zM479.1,388.1l4.8,9.5h-9.6zM463.4,442.4l4.8,9.5h-9.6zM501.7,515.5l4.8,9.5h-9.6zM502.4,527.1l4.8,9.5h-9.6zM505.0,536.7l4.8,9.5h-9.6zM505.4,546.0l4.8,9.5h-9.6zM505.1,557.8l4.8,9.5h-9.6zM470.2,617.1l4.8,9.5h-9.6zM475.8,619.6l4.8,9.5h-9.6zM481.8,620.7l4.8,9.5h-9.6zM487.6,622.2l4.8,9.5h-9.6zM504.9,539.0l4.8,9.5h-9.6zM503.2,545.8l4.8,9.5h-9.6zM503.6,552.4l4.8,9.5h-9.6zM502.6,559.0l4.8,9.5h-9.6zM507.1,565.4l4.8,9.5h-9.6zM503.9,572.1l4.8,9.5h-9.6zM508.1,578.6l4.8,9.5h-9.6zM507.2,584.9l4.8,9.5h-9.6zM506.4,592.1l4.8,9.5h-9.6zM508.5,598.4l4.8,9.5h-9.6zM513.6,603.5l4.8,9.5h-9.6zM515.4,610.1l4.8,9.5h-9.6zM550.7,645.8l4.8,9.5h-9.6zM554.7,650.2l4.8,9.5h-9.6zM560.3,650.9l4.8,9.5h-9.6zM566.2,651.5l4.8,9.5h-9.6zM570.6,656.0l4.8,9.5h-9.6zM570.6,662.7l4.8,9.5h-9.6zM577.2,664.8l4.8,9.5h-9.6zM577.9,670.8l4.8,9.5h-9.6zM583.2,673.5l4.8,9.5h-9.6zM587.2,676.6l4.8,9.5h-9.6zM589.5,681.9l4.8,9.5h-9.6zM591.9,687.5l4.8,9.5h-9.6z" fill="#fde4c4" fill-opacity="0.6" stroke="#F4AE5E" stroke-opacity="0.85" stroke-width="1.05" stroke-linejoin="round"/>
<path d="M303.0,309.3l4.8,9.5h-9.6zM314.2,312.8l4.8,9.5h-9.6zM327.4,315.8l4.8,9.5h-9.6zM341.8,325.1l4.8,9.5h-9.6zM358.9,331.0l4.8,9.5h-9.6zM376.0,333.6l4.8,9.5h-9.6zM362.0,330.8l4.8,9.5h-9.6zM445.5,337.1l4.8,9.5h-9.6zM445.1,346.4l4.8,9.5h-9.6zM445.3,354.4l4.8,9.5h-9.6zM445.4,363.0l4.8,9.5h-9.6zM446.3,371.8l4.8,9.5h-9.6zM446.3,380.8l4.8,9.5h-9.6zM446.0,391.9l4.8,9.5h-9.6zM483.5,346.0l4.8,9.5h-9.6zM481.2,363.3l4.8,9.5h-9.6zM479.2,372.3l4.8,9.5h-9.6zM478.0,382.5l4.8,9.5h-9.6zM479.5,390.5l4.8,9.5h-9.6zM466.0,430.8l4.8,9.5h-9.6zM502.8,519.4l4.8,9.5h-9.6zM503.5,529.4l4.8,9.5h-9.6zM504.6,540.5l4.8,9.5h-9.6zM505.5,549.9l4.8,9.5h-9.6zM466.1,617.2l4.8,9.5h-9.6zM472.1,617.8l4.8,9.5h-9.6zM477.6,620.5l4.8,9.5h-9.6zM483.6,621.6l4.8,9.5h-9.6zM505.0,534.6l4.8,9.5h-9.6zM503.9,541.3l4.8,9.5h-9.6zM503.4,548.0l4.8,9.5h-9.6zM504.6,554.5l4.8,9.5h-9.6zM506.2,561.0l4.8,9.5h-9.6zM504.5,567.7l4.8,9.5h-9.6zM505.9,574.3l4.8,9.5h-9.6zM505.0,580.9l4.8,9.5h-9.6zM506.4,587.5l4.8,9.5h-9.6zM508.0,593.9l4.8,9.5h-9.6zM513.2,599.0l4.8,9.5h-9.6zM515.4,604.9l4.8,9.5h-9.6zM519.8,610.0l4.8,9.5h-9.6zM552.9,645.2l4.8,9.5h-9.6zM556.2,651.5l4.8,9.5h-9.6zM560.5,654.1l4.8,9.5h-9.6zM566.4,654.8l4.8,9.5h-9.6zM572.0,657.4l4.8,9.5h-9.6zM570.6,664.8l4.8,9.5h-9.6zM577.6,666.6l4.8,9.5h-9.6zM581.3,670.5l4.8,9.5h-9.6zM579.6,679.0l4.8,9.5h-9.6zM583.7,682.8l4.8,9.5h-9.6zM587.9,686.7l4.8,9.5h-9.6z" fill="#fde4c4" fill-opacity="0.6" stroke="#F4AE5E" stroke-opacity="0.85" stroke-width="1.05" stroke-linejoin="round"/>
<path d="M306.3,310.8l4.8,9.5h-9.6zM318.2,313.8l4.8,9.5h-9.6zM302.0,312.8l4.8,9.5h-9.6zM348.4,326.4l4.8,9.5h-9.6zM364.2,332.3l4.8,9.5h-9.6zM377.4,335.6l4.8,9.5h-9.6zM437.3,319.9l4.8,9.5h-9.6zM445.6,339.5l4.8,9.5h-9.6zM445.2,348.9l4.8,9.5h-9.6zM445.9,358.7l4.8,9.5h-9.6zM445.0,366.8l4.8,9.5h-9.6zM446.6,374.9l4.8,9.5h-9.6zM446.3,384.6l4.8,9.5h-9.6zM471.4,343.0l4.8,9.5h-9.6zM482.5,353.1l4.8,9.5h-9.6zM481.0,366.1l4.8,9.5h-9.6zM479.3,375.3l4.8,9.5h-9.6zM479.5,385.3l4.8,9.5h-9.6zM495.5,427.4l4.8,9.5h-9.6zM498.0,430.8l4.8,9.5h-9.6zM502.8,523.5l4.8,9.5h-9.6zM503.8,532.7l4.8,9.5h-9.6zM504.8,542.8l4.8,9.5h-9.6zM505.2,554.9l4.8,9.5h-9.6zM468.2,616.7l4.8,9.5h-9.6zM473.8,619.5l4.8,9.5h-9.6zM479.2,622.3l4.8,9.5h-9.6zM485.1,623.4l4.8,9.5h-9.6zM503.4,536.9l4.8,9.5h-9.6zM504.8,543.4l4.8,9.5h-9.6zM505.5,550.0l4.8,9.5h-9.6zM506.5,556.6l4.8,9.5h-9.6zM506.7,563.2l4.8,9.5h-9.6zM503.4,570.0l4.8,9.5h-9.6zM506.7,576.4l4.8,9.5h-9.6zM505.5,583.1l4.8,9.5h-9.6zM508.1,589.3l4.8,9.5h-9.6zM511.0,595.3l4.8,9.5h-9.6zM511.9,601.9l4.8,9.5h-9.6zM517.3,606.3l4.8,9.5h-9.6zM548.9,645.3l4.8,9.5h-9.6zM552.5,650.9l4.8,9.5h-9.6zM559.7,648.0l4.8,9.5h-9.6zM562.8,653.7l4.8,9.5h-9.6zM565.8,658.3l4.8,9.5h-9.6zM572.2,659.4l4.8,9.5h-9.6zM576.2,663.3l4.8,9.5h-9.6zM578.1,668.4l4.8,9.5h-9.6zM581.3,672.8l4.8,9.5h-9.6zM582.4,679.0l4.8,9.5h-9.6zM589.7,679.1l4.8,9.5h-9.6zM590.2,686.7l4.8,9.5h-9.6z" fill="#fde4c4" fill-opacity="0.6" stroke="#F4AE5E" stroke-opacity="0.85" stroke-width="1.05" stroke-linejoin="round"/>
<polygon points="452.0,624.0 458.7,620.0 466.0,623.0 463.0,633.0 466.0,641.0 455.0,643.0 450.0,636.0" fill="#F5A052" fill-opacity="1.0"/>
<path d="M386.6,353.0l4.8,9.5h-9.6zM388.0,355.1l4.8,9.5h-9.6zM445.1,371.3l4.8,9.5h-9.6zM446.6,381.6l4.8,9.5h-9.6zM501.4,480.4l4.8,9.5h-9.6zM460.0,624.8l4.8,9.5h-9.6zM511.1,600.7l4.8,9.5h-9.6zM514.3,603.3l4.8,9.5h-9.6zM514.8,607.6l4.8,9.5h-9.6zM518.0,610.2l4.8,9.5h-9.6zM517.9,614.8l4.8,9.5h-9.6zM522.9,616.4l4.8,9.5h-9.6zM523.3,620.7l4.8,9.5h-9.6zM526.1,623.6l4.8,9.5h-9.6zM528.7,626.8l4.8,9.5h-9.6zM527.7,631.5l4.8,9.5h-9.6zM530.7,634.5l4.8,9.5h-9.6zM530.2,638.9l4.8,9.5h-9.6zM532.2,642.3l4.8,9.5h-9.6zM532.8,646.3l4.8,9.5h-9.6zM536.5,649.0l4.8,9.5h-9.6zM535.5,653.4l4.8,9.5h-9.6zM538.1,656.7l4.8,9.5h-9.6zM537.9,660.8l4.8,9.5h-9.6zM537.5,664.9l4.8,9.5h-9.6zM540.4,668.4l4.8,9.5h-9.6zM542.9,671.4l4.8,9.5h-9.6zM546.9,673.2l4.8,9.5h-9.6zM547.0,678.0l4.8,9.5h-9.6zM464.4,652.0l4.8,9.5h-9.6zM467.1,653.8l4.8,9.5h-9.6zM472.4,652.2l4.8,9.5h-9.6zM474.7,654.6l4.8,9.5h-9.6zM478.0,655.7l4.8,9.5h-9.6zM478.2,661.0l4.8,9.5h-9.6zM479.8,664.1l4.8,9.5h-9.6zM483.7,664.6l4.8,9.5h-9.6zM486.9,665.9l4.8,9.5h-9.6zM488.4,669.2l4.8,9.5h-9.6zM490.2,672.0l4.8,9.5h-9.6zM495.4,671.4l4.8,9.5h-9.6zM495.2,676.2l4.8,9.5h-9.6zM498.7,677.4l4.8,9.5h-9.6zM502.3,678.4l4.8,9.5h-9.6zM502.4,683.4l4.8,9.5h-9.6zM507.1,682.7l4.8,9.5h-9.6zM508.9,685.7l4.8,9.5h-9.6zM492.3,646.8l4.8,9.5h-9.6zM495.4,651.0l4.8,9.5h-9.6zM499.7,650.1l4.8,9.5h-9.6zM503.8,651.3l4.8,9.5h-9.6zM506.4,654.2l4.8,9.5h-9.6zM508.5,657.8l4.8,9.5h-9.6zM512.6,658.2l4.8,9.5h-9.6zM515.2,662.0l4.8,9.5h-9.6zM540.4,666.5l4.8,9.5h-9.6zM545.1,668.1l4.8,9.5h-9.6zM548.2,671.0l4.8,9.5h-9.6zM546.6,677.6l4.8,9.5h-9.6zM550.6,679.8l4.8,9.5h-9.6zM553.5,682.9l4.8,9.5h-9.6zM505.3,687.8l4.8,9.5h-9.6zM510.8,690.4l4.8,9.5h-9.6zM513.3,698.8l4.8,9.5h-9.6zM518.8,701.1l4.8,9.5h-9.6zM526.7,698.8l4.8,9.5h-9.6zM534.3,697.0l4.8,9.5h-9.6zM535.8,707.4l4.8,9.5h-9.6zM542.9,706.5l4.8,9.5h-9.6zM548.5,708.5l4.8,9.5h-9.6zM555.3,707.8l4.8,9.5h-9.6zM559.8,712.7l4.8,9.5h-9.6zM567.0,710.3l4.8,9.5h-9.6zM569.0,722.1l4.8,9.5h-9.6zM578.0,715.3l4.8,9.5h-9.6zM581.2,725.0l4.8,9.5h-9.6zM586.8,727.8l4.8,9.5h-9.6zM592.3,730.6l4.8,9.5h-9.6zM551.1,720.7l4.8,9.5h-9.6zM551.1,727.4l4.8,9.5h-9.6zM558.5,726.8l4.8,9.5h-9.6zM561.1,731.1l4.8,9.5h-9.6zM564.9,734.1l4.8,9.5h-9.6zM566.1,739.7l4.8,9.5h-9.6zM572.3,739.8l4.8,9.5h-9.6zM576.2,742.6l4.8,9.5h-9.6zM579.1,749.0l4.8,9.5h-9.6zM583.2,744.9l4.8,9.5h-9.6zM586.8,741.3l4.8,9.5h-9.6zM534.9,692.9l4.8,9.5h-9.6zM540.6,694.0l4.8,9.5h-9.6zM546.0,695.5l4.8,9.5h-9.6zM550.5,698.5l4.8,9.5h-9.6zM555.9,699.6l4.8,9.5h-9.6zM560.4,702.7l4.8,9.5h-9.6zM564.5,706.5l4.8,9.5h-9.6zM569.7,708.7l4.8,9.5h-9.6zM575.1,710.0l4.8,9.5h-9.6zM580.5,710.2l4.8,9.5h-9.6zM585.9,709.5l4.8,9.5h-9.6z" fill="#f7b270" fill-opacity="0.7" stroke="#F29A44" stroke-opacity="0.9" stroke-width="1.05" stroke-linejoin="round"/>
<path d="M388.2,355.9l4.8,9.5h-9.6zM387.0,357.8l4.8,9.5h-9.6zM445.8,374.7l4.8,9.5h-9.6zM445.1,384.0l4.8,9.5h-9.6zM501.4,512.0l4.8,9.5h-9.6zM456.0,631.8l4.8,9.5h-9.6zM510.5,602.6l4.8,9.5h-9.6zM513.6,605.3l4.8,9.5h-9.6zM514.9,609.0l4.8,9.5h-9.6zM518.7,611.3l4.8,9.5h-9.6zM518.9,615.7l4.8,9.5h-9.6zM520.7,619.2l4.8,9.5h-9.6zM523.0,622.4l4.8,9.5h-9.6zM527.1,624.5l4.8,9.5h-9.6zM528.1,628.5l4.8,9.5h-9.6zM527.6,632.9l4.8,9.5h-9.6zM530.1,636.1l4.8,9.5h-9.6zM531.7,639.7l4.8,9.5h-9.6zM531.5,644.0l4.8,9.5h-9.6zM536.4,646.2l4.8,9.5h-9.6zM534.9,650.8l4.8,9.5h-9.6zM537.5,654.2l4.8,9.5h-9.6zM538.8,657.9l4.8,9.5h-9.6zM537.9,662.1l4.8,9.5h-9.6zM539.7,665.7l4.8,9.5h-9.6zM540.8,669.8l4.8,9.5h-9.6zM544.2,672.0l4.8,9.5h-9.6zM546.3,675.2l4.8,9.5h-9.6zM550.2,677.2l4.8,9.5h-9.6zM465.4,652.5l4.8,9.5h-9.6zM468.7,653.5l4.8,9.5h-9.6zM473.3,652.8l4.8,9.5h-9.6zM475.2,655.8l4.8,9.5h-9.6zM478.1,657.4l4.8,9.5h-9.6zM480.4,660.0l4.8,9.5h-9.6zM482.4,662.7l4.8,9.5h-9.6zM486.8,662.6l4.8,9.5h-9.6zM486.5,668.1l4.8,9.5h-9.6zM489.9,669.2l4.8,9.5h-9.6zM494.2,669.5l4.8,9.5h-9.6zM496.9,671.4l4.8,9.5h-9.6zM495.1,677.9l4.8,9.5h-9.6zM499.5,678.2l4.8,9.5h-9.6zM501.9,680.5l4.8,9.5h-9.6zM505.4,681.3l4.8,9.5h-9.6zM508.2,683.1l4.8,9.5h-9.6zM489.7,646.4l4.8,9.5h-9.6zM492.8,650.5l4.8,9.5h-9.6zM496.8,650.5l4.8,9.5h-9.6zM500.8,650.9l4.8,9.5h-9.6zM502.3,655.3l4.8,9.5h-9.6zM507.3,655.3l4.8,9.5h-9.6zM509.9,657.9l4.8,9.5h-9.6zM513.4,659.7l4.8,9.5h-9.6zM516.5,662.5l4.8,9.5h-9.6zM542.8,666.4l4.8,9.5h-9.6zM545.3,669.7l4.8,9.5h-9.6zM546.8,673.9l4.8,9.5h-9.6zM548.7,677.8l4.8,9.5h-9.6zM553.5,679.4l4.8,9.5h-9.6zM552.2,685.6l4.8,9.5h-9.6zM506.2,690.5l4.8,9.5h-9.6zM513.7,688.9l4.8,9.5h-9.6zM515.7,698.4l4.8,9.5h-9.6zM521.7,699.8l4.8,9.5h-9.6zM529.3,697.9l4.8,9.5h-9.6zM534.0,702.0l4.8,9.5h-9.6zM538.1,707.3l4.8,9.5h-9.6zM544.6,707.6l4.8,9.5h-9.6zM549.0,712.7l4.8,9.5h-9.6zM554.7,714.7l4.8,9.5h-9.6zM561.1,714.8l4.8,9.5h-9.6zM566.4,717.6l4.8,9.5h-9.6zM570.1,724.9l4.8,9.5h-9.6zM577.6,722.2l4.8,9.5h-9.6zM583.7,722.6l4.8,9.5h-9.6zM589.6,723.9l4.8,9.5h-9.6zM596.3,720.9l4.8,9.5h-9.6zM550.1,723.9l4.8,9.5h-9.6zM555.8,725.0l4.8,9.5h-9.6zM559.0,728.7l4.8,9.5h-9.6zM562.2,732.2l4.8,9.5h-9.6zM566.5,734.7l4.8,9.5h-9.6zM566.1,741.9l4.8,9.5h-9.6zM570.8,744.5l4.8,9.5h-9.6zM577.9,743.0l4.8,9.5h-9.6zM580.6,746.8l4.8,9.5h-9.6zM583.5,741.8l4.8,9.5h-9.6zM589.2,742.6l4.8,9.5h-9.6zM537.9,691.5l4.8,9.5h-9.6zM543.9,692.0l4.8,9.5h-9.6zM545.4,699.8l4.8,9.5h-9.6zM552.4,698.5l4.8,9.5h-9.6zM558.1,699.1l4.8,9.5h-9.6zM562.1,703.2l4.8,9.5h-9.6zM566.2,706.9l4.8,9.5h-9.6zM571.4,706.2l4.8,9.5h-9.6zM576.7,703.6l4.8,9.5h-9.6zM582.3,709.2l4.8,9.5h-9.6z" fill="#f7b270" fill-opacity="0.7" stroke="#F29A44" stroke-opacity="0.9" stroke-width="1.05" stroke-linejoin="round"/>
<path d="M389.9,359.5l4.8,9.5h-9.6zM446.0,367.4l4.8,9.5h-9.6zM446.8,376.6l4.8,9.5h-9.6zM500.5,476.9l4.8,9.5h-9.6zM455.0,619.8l4.8,9.5h-9.6zM462.0,632.8l4.8,9.5h-9.6zM513.9,602.1l4.8,9.5h-9.6zM514.6,606.2l4.8,9.5h-9.6zM517.8,608.8l4.8,9.5h-9.6zM520.2,612.0l4.8,9.5h-9.6zM519.8,616.7l4.8,9.5h-9.6zM521.7,620.1l4.8,9.5h-9.6zM524.6,622.9l4.8,9.5h-9.6zM527.4,625.9l4.8,9.5h-9.6zM527.0,630.4l4.8,9.5h-9.6zM528.6,633.9l4.8,9.5h-9.6zM531.0,637.1l4.8,9.5h-9.6zM533.1,640.5l4.8,9.5h-9.6zM534.7,644.1l4.8,9.5h-9.6zM536.0,647.8l4.8,9.5h-9.6zM534.4,652.3l4.8,9.5h-9.6zM535.6,656.0l4.8,9.5h-9.6zM536.5,659.8l4.8,9.5h-9.6zM538.4,663.4l4.8,9.5h-9.6zM539.1,667.6l4.8,9.5h-9.6zM542.9,669.7l4.8,9.5h-9.6zM545.8,672.4l4.8,9.5h-9.6zM548.9,675.0l4.8,9.5h-9.6zM551.4,677.9l4.8,9.5h-9.6zM466.9,652.2l4.8,9.5h-9.6zM470.8,652.5l4.8,9.5h-9.6zM471.9,656.7l4.8,9.5h-9.6zM475.7,657.0l4.8,9.5h-9.6zM478.9,658.2l4.8,9.5h-9.6zM481.4,660.5l4.8,9.5h-9.6zM481.9,665.0l4.8,9.5h-9.6zM486.2,665.1l4.8,9.5h-9.6zM489.0,666.9l4.8,9.5h-9.6zM492.0,668.4l4.8,9.5h-9.6zM491.9,673.3l4.8,9.5h-9.6zM496.9,673.1l4.8,9.5h-9.6zM500.0,674.6l4.8,9.5h-9.6zM499.0,680.3l4.8,9.5h-9.6zM503.3,680.4l4.8,9.5h-9.6zM503.8,685.2l4.8,9.5h-9.6zM507.3,686.0l4.8,9.5h-9.6zM490.4,649.2l4.8,9.5h-9.6zM494.2,650.3l4.8,9.5h-9.6zM498.4,649.4l4.8,9.5h-9.6zM500.2,653.6l4.8,9.5h-9.6zM506.0,652.7l4.8,9.5h-9.6zM506.3,658.6l4.8,9.5h-9.6zM510.2,660.7l4.8,9.5h-9.6zM514.4,660.5l4.8,9.5h-9.6zM517.9,662.5l4.8,9.5h-9.6zM540.9,669.7l4.8,9.5h-9.6zM545.1,671.7l4.8,9.5h-9.6zM545.2,677.0l4.8,9.5h-9.6zM548.7,679.5l4.8,9.5h-9.6zM551.4,682.7l4.8,9.5h-9.6zM500.6,692.9l4.8,9.5h-9.6zM506.9,693.6l4.8,9.5h-9.6zM512.5,695.9l4.8,9.5h-9.6zM518.0,698.3l4.8,9.5h-9.6zM523.7,700.3l4.8,9.5h-9.6zM529.1,702.8l4.8,9.5h-9.6zM533.6,707.4l4.8,9.5h-9.6zM542.3,703.4l4.8,9.5h-9.6zM545.5,710.5l4.8,9.5h-9.6zM549.5,716.8l4.8,9.5h-9.6zM555.9,717.0l4.8,9.5h-9.6zM560.5,721.8l4.8,9.5h-9.6zM570.2,713.3l4.8,9.5h-9.6zM574.0,720.1l4.8,9.5h-9.6zM579.7,722.2l4.8,9.5h-9.6zM585.3,724.8l4.8,9.5h-9.6zM591.8,722.8l4.8,9.5h-9.6zM597.0,727.8l4.8,9.5h-9.6zM554.9,721.4l4.8,9.5h-9.6zM558.7,724.5l4.8,9.5h-9.6zM562.3,727.6l4.8,9.5h-9.6zM561.8,734.9l4.8,9.5h-9.6zM567.9,735.6l4.8,9.5h-9.6zM569.6,740.7l4.8,9.5h-9.6zM574.0,742.8l4.8,9.5h-9.6zM576.4,748.4l4.8,9.5h-9.6zM581.5,744.9l4.8,9.5h-9.6zM587.5,746.3l4.8,9.5h-9.6zM533.3,692.0l4.8,9.5h-9.6zM540.1,691.3l4.8,9.5h-9.6zM542.4,697.8l4.8,9.5h-9.6zM549.4,696.8l4.8,9.5h-9.6zM553.4,700.5l4.8,9.5h-9.6zM557.2,705.0l4.8,9.5h-9.6zM563.5,704.4l4.8,9.5h-9.6zM567.8,708.5l4.8,9.5h-9.6zM573.3,710.7l4.8,9.5h-9.6zM578.7,709.7l4.8,9.5h-9.6zM583.9,704.0l4.8,9.5h-9.6z" fill="#f7b270" fill-opacity="0.7" stroke="#F29A44" stroke-opacity="0.9" stroke-width="1.05" stroke-linejoin="round"/>
<polyline points="598.0,366.0 603.0,378.0 610.2,400.0 615.4,426.3 620.7,452.6 627.7,473.7 633.0,493.0 638.2,512.3 643.5,533.3 650.0,550.0 657.9,567.0 666.9,603.4 679.4,626.9 690.3,645.6 698.1,661.3 705.0,676.0 713.8,689.4 726.3,705.0 734.0,712.0" fill="none" stroke="#F5924A" stroke-opacity="1.0" stroke-width="9.5" stroke-linejoin="round" stroke-linecap="round"/>
<path d="M470.9,188.4a3.7,3.7 0 1,0 7.4,0a3.7,3.7 0 1,0-7.4,0M480.8,211.7a3.7,3.7 0 1,0 7.4,0a3.7,3.7 0 1,0-7.4,0M480.8,219.5a3.7,3.7 0 1,0 7.4,0a3.7,3.7 0 1,0-7.4,0M497.0,231.8a3.7,3.7 0 1,0 7.4,0a3.7,3.7 0 1,0-7.4,0M529.3,265.3a3.7,3.7 0 1,0 7.4,0a3.7,3.7 0 1,0-7.4,0M548.9,277.0a3.7,3.7 0 1,0 7.4,0a3.7,3.7 0 1,0-7.4,0M560.1,287.1a3.7,3.7 0 1,0 7.4,0a3.7,3.7 0 1,0-7.4,0M539.4,271.0a3.7,3.7 0 1,0 7.4,0a3.7,3.7 0 1,0-7.4,0M542.2,277.8a3.7,3.7 0 1,0 7.4,0a3.7,3.7 0 1,0-7.4,0M547.4,279.3a3.7,3.7 0 1,0 7.4,0a3.7,3.7 0 1,0-7.4,0M551.6,283.1a3.7,3.7 0 1,0 7.4,0a3.7,3.7 0 1,0-7.4,0M557.3,283.8a3.7,3.7 0 1,0 7.4,0a3.7,3.7 0 1,0-7.4,0M561.6,287.2a3.7,3.7 0 1,0 7.4,0a3.7,3.7 0 1,0-7.4,0M568.6,285.1a3.7,3.7 0 1,0 7.4,0a3.7,3.7 0 1,0-7.4,0M573.4,287.6a3.7,3.7 0 1,0 7.4,0a3.7,3.7 0 1,0-7.4,0M559.9,287.7a3.7,3.7 0 1,0 7.4,0a3.7,3.7 0 1,0-7.4,0M560.3,292.5a3.7,3.7 0 1,0 7.4,0a3.7,3.7 0 1,0-7.4,0M564.5,295.4a3.7,3.7 0 1,0 7.4,0a3.7,3.7 0 1,0-7.4,0M564.5,300.5a3.7,3.7 0 1,0 7.4,0a3.7,3.7 0 1,0-7.4,0M567.9,303.8a3.7,3.7 0 1,0 7.4,0a3.7,3.7 0 1,0-7.4,0M569.6,307.8a3.7,3.7 0 1,0 7.4,0a3.7,3.7 0 1,0-7.4,0M574.1,311.0a3.7,3.7 0 1,0 7.4,0a3.7,3.7 0 1,0-7.4,0M577.8,314.6a3.7,3.7 0 1,0 7.4,0a3.7,3.7 0 1,0-7.4,0M578.1,319.4a3.7,3.7 0 1,0 7.4,0a3.7,3.7 0 1,0-7.4,0M579.1,323.8a3.7,3.7 0 1,0 7.4,0a3.7,3.7 0 1,0-7.4,0M574.2,330.1a3.7,3.7 0 1,0 7.4,0a3.7,3.7 0 1,0-7.4,0M578.5,333.2a3.7,3.7 0 1,0 7.4,0a3.7,3.7 0 1,0-7.4,0M577.6,338.5a3.7,3.7 0 1,0 7.4,0a3.7,3.7 0 1,0-7.4,0" fill="#fff8ec" fill-opacity="0.5" stroke="#F7C27A" stroke-opacity="0.75" stroke-width="1.05" stroke-linejoin="round"/>
<path d="M411.2,268.2a3.7,3.7 0 1,0 7.4,0a3.7,3.7 0 1,0-7.4,0M483.6,212.3a3.7,3.7 0 1,0 7.4,0a3.7,3.7 0 1,0-7.4,0M490.3,225.1a3.7,3.7 0 1,0 7.4,0a3.7,3.7 0 1,0-7.4,0M503.1,237.4a3.7,3.7 0 1,0 7.4,0a3.7,3.7 0 1,0-7.4,0M536.1,273.1a3.7,3.7 0 1,0 7.4,0a3.7,3.7 0 1,0-7.4,0M551.1,284.8a3.7,3.7 0 1,0 7.4,0a3.7,3.7 0 1,0-7.4,0M563.4,289.3a3.7,3.7 0 1,0 7.4,0a3.7,3.7 0 1,0-7.4,0M541.1,271.7a3.7,3.7 0 1,0 7.4,0a3.7,3.7 0 1,0-7.4,0M544.7,276.7a3.7,3.7 0 1,0 7.4,0a3.7,3.7 0 1,0-7.4,0M549.5,279.1a3.7,3.7 0 1,0 7.4,0a3.7,3.7 0 1,0-7.4,0M553.6,283.2a3.7,3.7 0 1,0 7.4,0a3.7,3.7 0 1,0-7.4,0M559.1,284.2a3.7,3.7 0 1,0 7.4,0a3.7,3.7 0 1,0-7.4,0M564.8,284.8a3.7,3.7 0 1,0 7.4,0a3.7,3.7 0 1,0-7.4,0M569.2,288.0a3.7,3.7 0 1,0 7.4,0a3.7,3.7 0 1,0-7.4,0M573.8,290.8a3.7,3.7 0 1,0 7.4,0a3.7,3.7 0 1,0-7.4,0M559.8,289.4a3.7,3.7 0 1,0 7.4,0a3.7,3.7 0 1,0-7.4,0M565.5,291.6a3.7,3.7 0 1,0 7.4,0a3.7,3.7 0 1,0-7.4,0M565.3,296.7a3.7,3.7 0 1,0 7.4,0a3.7,3.7 0 1,0-7.4,0M564.4,302.2a3.7,3.7 0 1,0 7.4,0a3.7,3.7 0 1,0-7.4,0M573.6,303.1a3.7,3.7 0 1,0 7.4,0a3.7,3.7 0 1,0-7.4,0M567.1,310.2a3.7,3.7 0 1,0 7.4,0a3.7,3.7 0 1,0-7.4,0M573.7,312.7a3.7,3.7 0 1,0 7.4,0a3.7,3.7 0 1,0-7.4,0M574.4,317.2a3.7,3.7 0 1,0 7.4,0a3.7,3.7 0 1,0-7.4,0M579.0,320.7a3.7,3.7 0 1,0 7.4,0a3.7,3.7 0 1,0-7.4,0M578.5,325.5a3.7,3.7 0 1,0 7.4,0a3.7,3.7 0 1,0-7.4,0M581.3,328.9a3.7,3.7 0 1,0 7.4,0a3.7,3.7 0 1,0-7.4,0M576.3,335.7a3.7,3.7 0 1,0 7.4,0a3.7,3.7 0 1,0-7.4,0M583.0,337.9a3.7,3.7 0 1,0 7.4,0a3.7,3.7 0 1,0-7.4,0" fill="#fff8ec" fill-opacity="0.5" stroke="#F7C27A" stroke-opacity="0.75" stroke-width="1.05" stroke-linejoin="round"/>
<path d="M549.0,305.6a3.7,3.7 0 1,0 7.4,0a3.7,3.7 0 1,0-7.4,0M477.5,215.1a3.7,3.7 0 1,0 7.4,0a3.7,3.7 0 1,0-7.4,0M495.3,229.6a3.7,3.7 0 1,0 7.4,0a3.7,3.7 0 1,0-7.4,0M522.1,265.8a3.7,3.7 0 1,0 7.4,0a3.7,3.7 0 1,0-7.4,0M544.4,278.1a3.7,3.7 0 1,0 7.4,0a3.7,3.7 0 1,0-7.4,0M555.6,282.6a3.7,3.7 0 1,0 7.4,0a3.7,3.7 0 1,0-7.4,0M536.1,273.7a3.7,3.7 0 1,0 7.4,0a3.7,3.7 0 1,0-7.4,0M542.2,273.6a3.7,3.7 0 1,0 7.4,0a3.7,3.7 0 1,0-7.4,0M546.7,276.6a3.7,3.7 0 1,0 7.4,0a3.7,3.7 0 1,0-7.4,0M551.7,278.8a3.7,3.7 0 1,0 7.4,0a3.7,3.7 0 1,0-7.4,0M556.7,280.6a3.7,3.7 0 1,0 7.4,0a3.7,3.7 0 1,0-7.4,0M559.5,287.5a3.7,3.7 0 1,0 7.4,0a3.7,3.7 0 1,0-7.4,0M564.0,290.5a3.7,3.7 0 1,0 7.4,0a3.7,3.7 0 1,0-7.4,0M569.7,291.2a3.7,3.7 0 1,0 7.4,0a3.7,3.7 0 1,0-7.4,0M577.0,288.4a3.7,3.7 0 1,0 7.4,0a3.7,3.7 0 1,0-7.4,0M562.0,290.0a3.7,3.7 0 1,0 7.4,0a3.7,3.7 0 1,0-7.4,0M563.0,294.5a3.7,3.7 0 1,0 7.4,0a3.7,3.7 0 1,0-7.4,0M567.0,297.6a3.7,3.7 0 1,0 7.4,0a3.7,3.7 0 1,0-7.4,0M568.8,301.7a3.7,3.7 0 1,0 7.4,0a3.7,3.7 0 1,0-7.4,0M568.6,306.5a3.7,3.7 0 1,0 7.4,0a3.7,3.7 0 1,0-7.4,0M569.0,311.1a3.7,3.7 0 1,0 7.4,0a3.7,3.7 0 1,0-7.4,0M571.8,314.9a3.7,3.7 0 1,0 7.4,0a3.7,3.7 0 1,0-7.4,0M577.3,318.1a3.7,3.7 0 1,0 7.4,0a3.7,3.7 0 1,0-7.4,0M573.2,323.7a3.7,3.7 0 1,0 7.4,0a3.7,3.7 0 1,0-7.4,0M577.6,327.2a3.7,3.7 0 1,0 7.4,0a3.7,3.7 0 1,0-7.4,0M578.8,331.5a3.7,3.7 0 1,0 7.4,0a3.7,3.7 0 1,0-7.4,0M577.4,336.9a3.7,3.7 0 1,0 7.4,0a3.7,3.7 0 1,0-7.4,0M582.5,339.7a3.7,3.7 0 1,0 7.4,0a3.7,3.7 0 1,0-7.4,0" fill="#fff8ec" fill-opacity="0.5" stroke="#F7C27A" stroke-opacity="0.75" stroke-width="1.05" stroke-linejoin="round"/>
<path d="M565.0,294.6a3.7,3.7 0 1,0 7.4,0a3.7,3.7 0 1,0-7.4,0M568.1,297.7a3.7,3.7 0 1,0 7.4,0a3.7,3.7 0 1,0-7.4,0M569.7,301.6a3.7,3.7 0 1,0 7.4,0a3.7,3.7 0 1,0-7.4,0M571.6,305.5a3.7,3.7 0 1,0 7.4,0a3.7,3.7 0 1,0-7.4,0M572.4,309.8a3.7,3.7 0 1,0 7.4,0a3.7,3.7 0 1,0-7.4,0M571.9,314.4a3.7,3.7 0 1,0 7.4,0a3.7,3.7 0 1,0-7.4,0M573.3,318.3a3.7,3.7 0 1,0 7.4,0a3.7,3.7 0 1,0-7.4,0M573.9,322.5a3.7,3.7 0 1,0 7.4,0a3.7,3.7 0 1,0-7.4,0M577.3,325.9a3.7,3.7 0 1,0 7.4,0a3.7,3.7 0 1,0-7.4,0M577.3,330.3a3.7,3.7 0 1,0 7.4,0a3.7,3.7 0 1,0-7.4,0M581.2,333.4a3.7,3.7 0 1,0 7.4,0a3.7,3.7 0 1,0-7.4,0M583.5,337.0a3.7,3.7 0 1,0 7.4,0a3.7,3.7 0 1,0-7.4,0M544.3,275.2a3.7,3.7 0 1,0 7.4,0a3.7,3.7 0 1,0-7.4,0M549.3,281.7a3.7,3.7 0 1,0 7.4,0a3.7,3.7 0 1,0-7.4,0M557.0,282.4a3.7,3.7 0 1,0 7.4,0a3.7,3.7 0 1,0-7.4,0M563.4,285.4a3.7,3.7 0 1,0 7.4,0a3.7,3.7 0 1,0-7.4,0M569.2,289.7a3.7,3.7 0 1,0 7.4,0a3.7,3.7 0 1,0-7.4,0M584.5,339.4a3.7,3.7 0 1,0 7.4,0a3.7,3.7 0 1,0-7.4,0M581.2,344.9a3.7,3.7 0 1,0 7.4,0a3.7,3.7 0 1,0-7.4,0M581.8,348.8a3.7,3.7 0 1,0 7.4,0a3.7,3.7 0 1,0-7.4,0M585.9,351.4a3.7,3.7 0 1,0 7.4,0a3.7,3.7 0 1,0-7.4,0M584.7,356.4a3.7,3.7 0 1,0 7.4,0a3.7,3.7 0 1,0-7.4,0M591.0,357.6a3.7,3.7 0 1,0 7.4,0a3.7,3.7 0 1,0-7.4,0M589.5,362.7a3.7,3.7 0 1,0 7.4,0a3.7,3.7 0 1,0-7.4,0M594.0,364.8a3.7,3.7 0 1,0 7.4,0a3.7,3.7 0 1,0-7.4,0M591.7,370.3a3.7,3.7 0 1,0 7.4,0a3.7,3.7 0 1,0-7.4,0M594.5,373.3a3.7,3.7 0 1,0 7.4,0a3.7,3.7 0 1,0-7.4,0M582.2,340.3a3.7,3.7 0 1,0 7.4,0a3.7,3.7 0 1,0-7.4,0M581.5,344.8a3.7,3.7 0 1,0 7.4,0a3.7,3.7 0 1,0-7.4,0M583.8,348.0a3.7,3.7 0 1,0 7.4,0a3.7,3.7 0 1,0-7.4,0M587.8,350.6a3.7,3.7 0 1,0 7.4,0a3.7,3.7 0 1,0-7.4,0M590.2,353.7a3.7,3.7 0 1,0 7.4,0a3.7,3.7 0 1,0-7.4,0M589.0,358.6a3.7,3.7 0 1,0 7.4,0a3.7,3.7 0 1,0-7.4,0M590.6,362.2a3.7,3.7 0 1,0 7.4,0a3.7,3.7 0 1,0-7.4,0M593.2,365.2a3.7,3.7 0 1,0 7.4,0a3.7,3.7 0 1,0-7.4,0M592.3,370.0a3.7,3.7 0 1,0 7.4,0a3.7,3.7 0 1,0-7.4,0M598.1,371.5a3.7,3.7 0 1,0 7.4,0a3.7,3.7 0 1,0-7.4,0" fill="#f9c898" fill-opacity="0.5" stroke="#F5A658" stroke-opacity="0.8" stroke-width="1.05" stroke-linejoin="round"/>
<path d="M562.9,297.3a3.7,3.7 0 1,0 7.4,0a3.7,3.7 0 1,0-7.4,0M568.7,299.0a3.7,3.7 0 1,0 7.4,0a3.7,3.7 0 1,0-7.4,0M569.1,303.6a3.7,3.7 0 1,0 7.4,0a3.7,3.7 0 1,0-7.4,0M573.6,306.5a3.7,3.7 0 1,0 7.4,0a3.7,3.7 0 1,0-7.4,0M571.7,311.5a3.7,3.7 0 1,0 7.4,0a3.7,3.7 0 1,0-7.4,0M573.3,315.4a3.7,3.7 0 1,0 7.4,0a3.7,3.7 0 1,0-7.4,0M577.3,318.6a3.7,3.7 0 1,0 7.4,0a3.7,3.7 0 1,0-7.4,0M573.8,324.0a3.7,3.7 0 1,0 7.4,0a3.7,3.7 0 1,0-7.4,0M577.7,327.2a3.7,3.7 0 1,0 7.4,0a3.7,3.7 0 1,0-7.4,0M581.0,330.4a3.7,3.7 0 1,0 7.4,0a3.7,3.7 0 1,0-7.4,0M581.9,334.6a3.7,3.7 0 1,0 7.4,0a3.7,3.7 0 1,0-7.4,0M584.3,338.2a3.7,3.7 0 1,0 7.4,0a3.7,3.7 0 1,0-7.4,0M546.0,277.4a3.7,3.7 0 1,0 7.4,0a3.7,3.7 0 1,0-7.4,0M552.0,281.5a3.7,3.7 0 1,0 7.4,0a3.7,3.7 0 1,0-7.4,0M558.8,284.0a3.7,3.7 0 1,0 7.4,0a3.7,3.7 0 1,0-7.4,0M564.1,289.6a3.7,3.7 0 1,0 7.4,0a3.7,3.7 0 1,0-7.4,0M571.4,290.7a3.7,3.7 0 1,0 7.4,0a3.7,3.7 0 1,0-7.4,0M583.4,341.2a3.7,3.7 0 1,0 7.4,0a3.7,3.7 0 1,0-7.4,0M586.0,344.4a3.7,3.7 0 1,0 7.4,0a3.7,3.7 0 1,0-7.4,0M585.1,348.9a3.7,3.7 0 1,0 7.4,0a3.7,3.7 0 1,0-7.4,0M589.8,351.3a3.7,3.7 0 1,0 7.4,0a3.7,3.7 0 1,0-7.4,0M586.0,357.2a3.7,3.7 0 1,0 7.4,0a3.7,3.7 0 1,0-7.4,0M590.9,359.1a3.7,3.7 0 1,0 7.4,0a3.7,3.7 0 1,0-7.4,0M591.6,363.1a3.7,3.7 0 1,0 7.4,0a3.7,3.7 0 1,0-7.4,0M595.3,365.6a3.7,3.7 0 1,0 7.4,0a3.7,3.7 0 1,0-7.4,0M593.1,371.1a3.7,3.7 0 1,0 7.4,0a3.7,3.7 0 1,0-7.4,0M595.6,374.2a3.7,3.7 0 1,0 7.4,0a3.7,3.7 0 1,0-7.4,0M582.0,341.7a3.7,3.7 0 1,0 7.4,0a3.7,3.7 0 1,0-7.4,0M585.6,344.5a3.7,3.7 0 1,0 7.4,0a3.7,3.7 0 1,0-7.4,0M586.5,348.4a3.7,3.7 0 1,0 7.4,0a3.7,3.7 0 1,0-7.4,0M585.8,352.8a3.7,3.7 0 1,0 7.4,0a3.7,3.7 0 1,0-7.4,0M591.0,354.7a3.7,3.7 0 1,0 7.4,0a3.7,3.7 0 1,0-7.4,0M590.8,359.2a3.7,3.7 0 1,0 7.4,0a3.7,3.7 0 1,0-7.4,0M594.9,361.5a3.7,3.7 0 1,0 7.4,0a3.7,3.7 0 1,0-7.4,0M590.7,367.9a3.7,3.7 0 1,0 7.4,0a3.7,3.7 0 1,0-7.4,0M595.5,369.9a3.7,3.7 0 1,0 7.4,0a3.7,3.7 0 1,0-7.4,0M594.2,374.9a3.7,3.7 0 1,0 7.4,0a3.7,3.7 0 1,0-7.4,0" fill="#f9c898" fill-opacity="0.5" stroke="#F5A658" stroke-opacity="0.8" stroke-width="1.05" stroke-linejoin="round"/>
<path d="M563.2,298.8a3.7,3.7 0 1,0 7.4,0a3.7,3.7 0 1,0-7.4,0M569.1,300.4a3.7,3.7 0 1,0 7.4,0a3.7,3.7 0 1,0-7.4,0M569.2,305.1a3.7,3.7 0 1,0 7.4,0a3.7,3.7 0 1,0-7.4,0M571.7,308.6a3.7,3.7 0 1,0 7.4,0a3.7,3.7 0 1,0-7.4,0M570.0,313.6a3.7,3.7 0 1,0 7.4,0a3.7,3.7 0 1,0-7.4,0M573.2,316.9a3.7,3.7 0 1,0 7.4,0a3.7,3.7 0 1,0-7.4,0M572.8,321.4a3.7,3.7 0 1,0 7.4,0a3.7,3.7 0 1,0-7.4,0M574.6,325.2a3.7,3.7 0 1,0 7.4,0a3.7,3.7 0 1,0-7.4,0M579.8,327.9a3.7,3.7 0 1,0 7.4,0a3.7,3.7 0 1,0-7.4,0M581.5,331.8a3.7,3.7 0 1,0 7.4,0a3.7,3.7 0 1,0-7.4,0M581.4,336.3a3.7,3.7 0 1,0 7.4,0a3.7,3.7 0 1,0-7.4,0M542.0,274.4a3.7,3.7 0 1,0 7.4,0a3.7,3.7 0 1,0-7.4,0M548.8,276.8a3.7,3.7 0 1,0 7.4,0a3.7,3.7 0 1,0-7.4,0M555.2,280.7a3.7,3.7 0 1,0 7.4,0a3.7,3.7 0 1,0-7.4,0M560.8,285.3a3.7,3.7 0 1,0 7.4,0a3.7,3.7 0 1,0-7.4,0M566.0,291.2a3.7,3.7 0 1,0 7.4,0a3.7,3.7 0 1,0-7.4,0M574.4,289.8a3.7,3.7 0 1,0 7.4,0a3.7,3.7 0 1,0-7.4,0M584.4,342.2a3.7,3.7 0 1,0 7.4,0a3.7,3.7 0 1,0-7.4,0M587.4,345.2a3.7,3.7 0 1,0 7.4,0a3.7,3.7 0 1,0-7.4,0M588.0,349.2a3.7,3.7 0 1,0 7.4,0a3.7,3.7 0 1,0-7.4,0M587.0,353.8a3.7,3.7 0 1,0 7.4,0a3.7,3.7 0 1,0-7.4,0M587.7,357.8a3.7,3.7 0 1,0 7.4,0a3.7,3.7 0 1,0-7.4,0M592.7,359.6a3.7,3.7 0 1,0 7.4,0a3.7,3.7 0 1,0-7.4,0M590.6,365.0a3.7,3.7 0 1,0 7.4,0a3.7,3.7 0 1,0-7.4,0M592.2,368.6a3.7,3.7 0 1,0 7.4,0a3.7,3.7 0 1,0-7.4,0M594.0,372.1a3.7,3.7 0 1,0 7.4,0a3.7,3.7 0 1,0-7.4,0M599.4,373.8a3.7,3.7 0 1,0 7.4,0a3.7,3.7 0 1,0-7.4,0M585.9,341.6a3.7,3.7 0 1,0 7.4,0a3.7,3.7 0 1,0-7.4,0M581.6,347.5a3.7,3.7 0 1,0 7.4,0a3.7,3.7 0 1,0-7.4,0M588.1,349.1a3.7,3.7 0 1,0 7.4,0a3.7,3.7 0 1,0-7.4,0M585.9,354.3a3.7,3.7 0 1,0 7.4,0a3.7,3.7 0 1,0-7.4,0M588.7,357.3a3.7,3.7 0 1,0 7.4,0a3.7,3.7 0 1,0-7.4,0M592.4,359.8a3.7,3.7 0 1,0 7.4,0a3.7,3.7 0 1,0-7.4,0M593.6,363.5a3.7,3.7 0 1,0 7.4,0a3.7,3.7 0 1,0-7.4,0M593.2,368.1a3.7,3.7 0 1,0 7.4,0a3.7,3.7 0 1,0-7.4,0M597.6,370.3a3.7,3.7 0 1,0 7.4,0a3.7,3.7 0 1,0-7.4,0M596.4,375.3a3.7,3.7 0 1,0 7.4,0a3.7,3.7 0 1,0-7.4,0" fill="#f9c898" fill-opacity="0.5" stroke="#F5A658" stroke-opacity="0.8" stroke-width="1.05" stroke-linejoin="round"/>
<path d="M597.1,372.0a3.7,3.7 0 1,0 7.4,0a3.7,3.7 0 1,0-7.4,0M604.1,379.5a3.7,3.7 0 1,0 7.4,0a3.7,3.7 0 1,0-7.4,0M600.0,389.9a3.7,3.7 0 1,0 7.4,0a3.7,3.7 0 1,0-7.4,0M599.8,399.2a3.7,3.7 0 1,0 7.4,0a3.7,3.7 0 1,0-7.4,0M607.6,406.5a3.7,3.7 0 1,0 7.4,0a3.7,3.7 0 1,0-7.4,0M611.4,414.7a3.7,3.7 0 1,0 7.4,0a3.7,3.7 0 1,0-7.4,0M607.5,425.4a3.7,3.7 0 1,0 7.4,0a3.7,3.7 0 1,0-7.4,0M612.4,433.1a3.7,3.7 0 1,0 7.4,0a3.7,3.7 0 1,0-7.4,0M614.3,441.9a3.7,3.7 0 1,0 7.4,0a3.7,3.7 0 1,0-7.4,0M615.3,450.9a3.7,3.7 0 1,0 7.4,0a3.7,3.7 0 1,0-7.4,0M616.8,459.7a3.7,3.7 0 1,0 7.4,0a3.7,3.7 0 1,0-7.4,0M617.3,469.0a3.7,3.7 0 1,0 7.4,0a3.7,3.7 0 1,0-7.4,0M619.8,477.7a3.7,3.7 0 1,0 7.4,0a3.7,3.7 0 1,0-7.4,0M631.3,483.5a3.7,3.7 0 1,0 7.4,0a3.7,3.7 0 1,0-7.4,0M623.6,490.8a3.7,3.7 0 1,0 7.4,0a3.7,3.7 0 1,0-7.4,0M622.6,496.1a3.7,3.7 0 1,0 7.4,0a3.7,3.7 0 1,0-7.4,0M629.8,499.0a3.7,3.7 0 1,0 7.4,0a3.7,3.7 0 1,0-7.4,0M625.5,505.3a3.7,3.7 0 1,0 7.4,0a3.7,3.7 0 1,0-7.4,0M627.2,509.6a3.7,3.7 0 1,0 7.4,0a3.7,3.7 0 1,0-7.4,0M629.9,513.8a3.7,3.7 0 1,0 7.4,0a3.7,3.7 0 1,0-7.4,0M638.3,516.6a3.7,3.7 0 1,0 7.4,0a3.7,3.7 0 1,0-7.4,0M640.0,521.1a3.7,3.7 0 1,0 7.4,0a3.7,3.7 0 1,0-7.4,0M632.4,528.1a3.7,3.7 0 1,0 7.4,0a3.7,3.7 0 1,0-7.4,0M638.3,531.5a3.7,3.7 0 1,0 7.4,0a3.7,3.7 0 1,0-7.4,0M635.5,537.6a3.7,3.7 0 1,0 7.4,0a3.7,3.7 0 1,0-7.4,0M642.3,540.3a3.7,3.7 0 1,0 7.4,0a3.7,3.7 0 1,0-7.4,0M648.3,543.1a3.7,3.7 0 1,0 7.4,0a3.7,3.7 0 1,0-7.4,0M650.4,547.2a3.7,3.7 0 1,0 7.4,0a3.7,3.7 0 1,0-7.4,0M647.5,553.8a3.7,3.7 0 1,0 7.4,0a3.7,3.7 0 1,0-7.4,0M649.6,558.1a3.7,3.7 0 1,0 7.4,0a3.7,3.7 0 1,0-7.4,0" fill="#FCE0C0" fill-opacity="0.3" stroke="#F6B46E" stroke-opacity="0.6" stroke-width="1.05" stroke-linejoin="round"/>
<path d="M599.5,374.5a3.7,3.7 0 1,0 7.4,0a3.7,3.7 0 1,0-7.4,0M602.5,383.1a3.7,3.7 0 1,0 7.4,0a3.7,3.7 0 1,0-7.4,0M598.2,393.5a3.7,3.7 0 1,0 7.4,0a3.7,3.7 0 1,0-7.4,0M600.1,402.2a3.7,3.7 0 1,0 7.4,0a3.7,3.7 0 1,0-7.4,0M609.7,409.1a3.7,3.7 0 1,0 7.4,0a3.7,3.7 0 1,0-7.4,0M612.2,417.5a3.7,3.7 0 1,0 7.4,0a3.7,3.7 0 1,0-7.4,0M609.1,428.0a3.7,3.7 0 1,0 7.4,0a3.7,3.7 0 1,0-7.4,0M611.6,436.3a3.7,3.7 0 1,0 7.4,0a3.7,3.7 0 1,0-7.4,0M612.5,445.3a3.7,3.7 0 1,0 7.4,0a3.7,3.7 0 1,0-7.4,0M618.6,453.2a3.7,3.7 0 1,0 7.4,0a3.7,3.7 0 1,0-7.4,0M621.9,461.7a3.7,3.7 0 1,0 7.4,0a3.7,3.7 0 1,0-7.4,0M623.6,470.5a3.7,3.7 0 1,0 7.4,0a3.7,3.7 0 1,0-7.4,0M622.7,480.0a3.7,3.7 0 1,0 7.4,0a3.7,3.7 0 1,0-7.4,0M631.4,485.1a3.7,3.7 0 1,0 7.4,0a3.7,3.7 0 1,0-7.4,0M632.9,489.7a3.7,3.7 0 1,0 7.4,0a3.7,3.7 0 1,0-7.4,0M627.4,496.4a3.7,3.7 0 1,0 7.4,0a3.7,3.7 0 1,0-7.4,0M635.8,498.8a3.7,3.7 0 1,0 7.4,0a3.7,3.7 0 1,0-7.4,0M630.3,505.5a3.7,3.7 0 1,0 7.4,0a3.7,3.7 0 1,0-7.4,0M634.4,509.3a3.7,3.7 0 1,0 7.4,0a3.7,3.7 0 1,0-7.4,0M638.6,513.2a3.7,3.7 0 1,0 7.4,0a3.7,3.7 0 1,0-7.4,0M639.4,517.9a3.7,3.7 0 1,0 7.4,0a3.7,3.7 0 1,0-7.4,0M638.2,523.2a3.7,3.7 0 1,0 7.4,0a3.7,3.7 0 1,0-7.4,0M640.3,527.5a3.7,3.7 0 1,0 7.4,0a3.7,3.7 0 1,0-7.4,0M634.6,534.6a3.7,3.7 0 1,0 7.4,0a3.7,3.7 0 1,0-7.4,0M641.5,537.2a3.7,3.7 0 1,0 7.4,0a3.7,3.7 0 1,0-7.4,0M649.5,539.5a3.7,3.7 0 1,0 7.4,0a3.7,3.7 0 1,0-7.4,0M651.2,543.3a3.7,3.7 0 1,0 7.4,0a3.7,3.7 0 1,0-7.4,0M647.2,550.4a3.7,3.7 0 1,0 7.4,0a3.7,3.7 0 1,0-7.4,0M651.1,553.9a3.7,3.7 0 1,0 7.4,0a3.7,3.7 0 1,0-7.4,0M647.3,560.9a3.7,3.7 0 1,0 7.4,0a3.7,3.7 0 1,0-7.4,0" fill="#FCE0C0" fill-opacity="0.3" stroke="#F6B46E" stroke-opacity="0.6" stroke-width="1.05" stroke-linejoin="round"/>
<path d="M603.4,376.6a3.7,3.7 0 1,0 7.4,0a3.7,3.7 0 1,0-7.4,0M603.4,385.9a3.7,3.7 0 1,0 7.4,0a3.7,3.7 0 1,0-7.4,0M603.9,395.1a3.7,3.7 0 1,0 7.4,0a3.7,3.7 0 1,0-7.4,0M601.1,405.1a3.7,3.7 0 1,0 7.4,0a3.7,3.7 0 1,0-7.4,0M610.4,412.0a3.7,3.7 0 1,0 7.4,0a3.7,3.7 0 1,0-7.4,0M609.2,421.7a3.7,3.7 0 1,0 7.4,0a3.7,3.7 0 1,0-7.4,0M613.4,429.8a3.7,3.7 0 1,0 7.4,0a3.7,3.7 0 1,0-7.4,0M619.2,437.7a3.7,3.7 0 1,0 7.4,0a3.7,3.7 0 1,0-7.4,0M614.3,448.0a3.7,3.7 0 1,0 7.4,0a3.7,3.7 0 1,0-7.4,0M622.2,455.5a3.7,3.7 0 1,0 7.4,0a3.7,3.7 0 1,0-7.4,0M618.2,465.7a3.7,3.7 0 1,0 7.4,0a3.7,3.7 0 1,0-7.4,0M624.3,473.4a3.7,3.7 0 1,0 7.4,0a3.7,3.7 0 1,0-7.4,0M628.8,481.5a3.7,3.7 0 1,0 7.4,0a3.7,3.7 0 1,0-7.4,0M621.8,489.7a3.7,3.7 0 1,0 7.4,0a3.7,3.7 0 1,0-7.4,0M624.2,494.0a3.7,3.7 0 1,0 7.4,0a3.7,3.7 0 1,0-7.4,0M632.0,496.7a3.7,3.7 0 1,0 7.4,0a3.7,3.7 0 1,0-7.4,0M637.9,499.9a3.7,3.7 0 1,0 7.4,0a3.7,3.7 0 1,0-7.4,0M632.3,506.6a3.7,3.7 0 1,0 7.4,0a3.7,3.7 0 1,0-7.4,0M628.9,512.4a3.7,3.7 0 1,0 7.4,0a3.7,3.7 0 1,0-7.4,0M638.5,514.9a3.7,3.7 0 1,0 7.4,0a3.7,3.7 0 1,0-7.4,0M635.1,520.7a3.7,3.7 0 1,0 7.4,0a3.7,3.7 0 1,0-7.4,0M642.5,523.7a3.7,3.7 0 1,0 7.4,0a3.7,3.7 0 1,0-7.4,0M639.4,529.5a3.7,3.7 0 1,0 7.4,0a3.7,3.7 0 1,0-7.4,0M641.5,533.8a3.7,3.7 0 1,0 7.4,0a3.7,3.7 0 1,0-7.4,0M641.7,538.9a3.7,3.7 0 1,0 7.4,0a3.7,3.7 0 1,0-7.4,0M644.5,542.9a3.7,3.7 0 1,0 7.4,0a3.7,3.7 0 1,0-7.4,0M641.7,549.4a3.7,3.7 0 1,0 7.4,0a3.7,3.7 0 1,0-7.4,0M644.7,553.3a3.7,3.7 0 1,0 7.4,0a3.7,3.7 0 1,0-7.4,0M649.4,556.5a3.7,3.7 0 1,0 7.4,0a3.7,3.7 0 1,0-7.4,0" fill="#FCE0C0" fill-opacity="0.3" stroke="#F6B46E" stroke-opacity="0.6" stroke-width="1.05" stroke-linejoin="round"/>
<path d="M596.1,365.2a3.7,3.7 0 1,0 7.4,0a3.7,3.7 0 1,0-7.4,0M596.4,368.1a3.7,3.7 0 1,0 7.4,0a3.7,3.7 0 1,0-7.4,0M596.1,371.1a3.7,3.7 0 1,0 7.4,0a3.7,3.7 0 1,0-7.4,0M597.7,373.4a3.7,3.7 0 1,0 7.4,0a3.7,3.7 0 1,0-7.4,0M598.4,376.0a3.7,3.7 0 1,0 7.4,0a3.7,3.7 0 1,0-7.4,0M599.3,378.5a3.7,3.7 0 1,0 7.4,0a3.7,3.7 0 1,0-7.4,0M599.3,381.4a3.7,3.7 0 1,0 7.4,0a3.7,3.7 0 1,0-7.4,0M602.3,383.2a3.7,3.7 0 1,0 7.4,0a3.7,3.7 0 1,0-7.4,0M600.4,386.7a3.7,3.7 0 1,0 7.4,0a3.7,3.7 0 1,0-7.4,0M603.1,388.6a3.7,3.7 0 1,0 7.4,0a3.7,3.7 0 1,0-7.4,0M605.7,390.6a3.7,3.7 0 1,0 7.4,0a3.7,3.7 0 1,0-7.4,0M602.6,394.5a3.7,3.7 0 1,0 7.4,0a3.7,3.7 0 1,0-7.4,0M604.6,396.7a3.7,3.7 0 1,0 7.4,0a3.7,3.7 0 1,0-7.4,0M604.0,399.7a3.7,3.7 0 1,0 7.4,0a3.7,3.7 0 1,0-7.4,0M607.3,401.5a3.7,3.7 0 1,0 7.4,0a3.7,3.7 0 1,0-7.4,0M605.7,404.6a3.7,3.7 0 1,0 7.4,0a3.7,3.7 0 1,0-7.4,0M607.8,406.9a3.7,3.7 0 1,0 7.4,0a3.7,3.7 0 1,0-7.4,0M609.3,409.4a3.7,3.7 0 1,0 7.4,0a3.7,3.7 0 1,0-7.4,0M608.7,412.3a3.7,3.7 0 1,0 7.4,0a3.7,3.7 0 1,0-7.4,0M610.3,414.7a3.7,3.7 0 1,0 7.4,0a3.7,3.7 0 1,0-7.4,0M612.1,417.1a3.7,3.7 0 1,0 7.4,0a3.7,3.7 0 1,0-7.4,0M608.2,420.6a3.7,3.7 0 1,0 7.4,0a3.7,3.7 0 1,0-7.4,0M613.3,422.4a3.7,3.7 0 1,0 7.4,0a3.7,3.7 0 1,0-7.4,0M613.4,425.1a3.7,3.7 0 1,0 7.4,0a3.7,3.7 0 1,0-7.4,0M610.5,428.4a3.7,3.7 0 1,0 7.4,0a3.7,3.7 0 1,0-7.4,0M610.5,431.2a3.7,3.7 0 1,0 7.4,0a3.7,3.7 0 1,0-7.4,0M615.1,433.0a3.7,3.7 0 1,0 7.4,0a3.7,3.7 0 1,0-7.4,0M614.0,436.0a3.7,3.7 0 1,0 7.4,0a3.7,3.7 0 1,0-7.4,0M613.5,438.8a3.7,3.7 0 1,0 7.4,0a3.7,3.7 0 1,0-7.4,0M613.0,441.7a3.7,3.7 0 1,0 7.4,0a3.7,3.7 0 1,0-7.4,0M615.5,443.9a3.7,3.7 0 1,0 7.4,0a3.7,3.7 0 1,0-7.4,0M613.7,447.1a3.7,3.7 0 1,0 7.4,0a3.7,3.7 0 1,0-7.4,0M616.2,449.3a3.7,3.7 0 1,0 7.4,0a3.7,3.7 0 1,0-7.4,0M618.5,451.6a3.7,3.7 0 1,0 7.4,0a3.7,3.7 0 1,0-7.4,0M618.5,454.2a3.7,3.7 0 1,0 7.4,0a3.7,3.7 0 1,0-7.4,0M619.5,456.7a3.7,3.7 0 1,0 7.4,0a3.7,3.7 0 1,0-7.4,0M620.1,459.4a3.7,3.7 0 1,0 7.4,0a3.7,3.7 0 1,0-7.4,0M622.5,461.4a3.7,3.7 0 1,0 7.4,0a3.7,3.7 0 1,0-7.4,0M622.5,464.3a3.7,3.7 0 1,0 7.4,0a3.7,3.7 0 1,0-7.4,0M623.8,466.7a3.7,3.7 0 1,0 7.4,0a3.7,3.7 0 1,0-7.4,0M622.8,469.9a3.7,3.7 0 1,0 7.4,0a3.7,3.7 0 1,0-7.4,0M623.6,472.5a3.7,3.7 0 1,0 7.4,0a3.7,3.7 0 1,0-7.4,0M625.1,474.8a3.7,3.7 0 1,0 7.4,0a3.7,3.7 0 1,0-7.4,0M624.4,477.8a3.7,3.7 0 1,0 7.4,0a3.7,3.7 0 1,0-7.4,0M627.9,479.7a3.7,3.7 0 1,0 7.4,0a3.7,3.7 0 1,0-7.4,0M625.3,483.2a3.7,3.7 0 1,0 7.4,0a3.7,3.7 0 1,0-7.4,0M629.2,484.9a3.7,3.7 0 1,0 7.4,0a3.7,3.7 0 1,0-7.4,0M627.1,488.3a3.7,3.7 0 1,0 7.4,0a3.7,3.7 0 1,0-7.4,0M629.7,490.4a3.7,3.7 0 1,0 7.4,0a3.7,3.7 0 1,0-7.4,0M629.6,493.2a3.7,3.7 0 1,0 7.4,0a3.7,3.7 0 1,0-7.4,0M627.8,496.5a3.7,3.7 0 1,0 7.4,0a3.7,3.7 0 1,0-7.4,0M628.5,499.1a3.7,3.7 0 1,0 7.4,0a3.7,3.7 0 1,0-7.4,0M633.9,500.4a3.7,3.7 0 1,0 7.4,0a3.7,3.7 0 1,0-7.4,0M632.2,503.7a3.7,3.7 0 1,0 7.4,0a3.7,3.7 0 1,0-7.4,0M635.3,505.7a3.7,3.7 0 1,0 7.4,0a3.7,3.7 0 1,0-7.4,0M634.1,508.8a3.7,3.7 0 1,0 7.4,0a3.7,3.7 0 1,0-7.4,0M635.2,511.3a3.7,3.7 0 1,0 7.4,0a3.7,3.7 0 1,0-7.4,0M634.8,514.3a3.7,3.7 0 1,0 7.4,0a3.7,3.7 0 1,0-7.4,0M634.7,517.4a3.7,3.7 0 1,0 7.4,0a3.7,3.7 0 1,0-7.4,0M637.3,519.8a3.7,3.7 0 1,0 7.4,0a3.7,3.7 0 1,0-7.4,0M636.1,523.2a3.7,3.7 0 1,0 7.4,0a3.7,3.7 0 1,0-7.4,0M636.3,526.3a3.7,3.7 0 1,0 7.4,0a3.7,3.7 0 1,0-7.4,0M637.5,529.1a3.7,3.7 0 1,0 7.4,0a3.7,3.7 0 1,0-7.4,0M639.3,531.7a3.7,3.7 0 1,0 7.4,0a3.7,3.7 0 1,0-7.4,0M638.9,535.1a3.7,3.7 0 1,0 7.4,0a3.7,3.7 0 1,0-7.4,0M639.5,538.1a3.7,3.7 0 1,0 7.4,0a3.7,3.7 0 1,0-7.4,0M643.7,539.7a3.7,3.7 0 1,0 7.4,0a3.7,3.7 0 1,0-7.4,0M644.2,542.7a3.7,3.7 0 1,0 7.4,0a3.7,3.7 0 1,0-7.4,0M644.4,545.8a3.7,3.7 0 1,0 7.4,0a3.7,3.7 0 1,0-7.4,0M644.9,548.9a3.7,3.7 0 1,0 7.4,0a3.7,3.7 0 1,0-7.4,0M645.5,551.9a3.7,3.7 0 1,0 7.4,0a3.7,3.7 0 1,0-7.4,0M648.0,554.1a3.7,3.7 0 1,0 7.4,0a3.7,3.7 0 1,0-7.4,0M648.4,557.2a3.7,3.7 0 1,0 7.4,0a3.7,3.7 0 1,0-7.4,0M651.8,559.0a3.7,3.7 0 1,0 7.4,0a3.7,3.7 0 1,0-7.4,0M650.9,562.7a3.7,3.7 0 1,0 7.4,0a3.7,3.7 0 1,0-7.4,0M653.8,564.6a3.7,3.7 0 1,0 7.4,0a3.7,3.7 0 1,0-7.4,0M653.1,568.0a3.7,3.7 0 1,0 7.4,0a3.7,3.7 0 1,0-7.4,0M657.1,570.1a3.7,3.7 0 1,0 7.4,0a3.7,3.7 0 1,0-7.4,0M654.6,573.8a3.7,3.7 0 1,0 7.4,0a3.7,3.7 0 1,0-7.4,0M658.9,575.8a3.7,3.7 0 1,0 7.4,0a3.7,3.7 0 1,0-7.4,0M656.4,579.5a3.7,3.7 0 1,0 7.4,0a3.7,3.7 0 1,0-7.4,0M659.0,582.0a3.7,3.7 0 1,0 7.4,0a3.7,3.7 0 1,0-7.4,0M658.8,585.1a3.7,3.7 0 1,0 7.4,0a3.7,3.7 0 1,0-7.4,0M660.9,587.7a3.7,3.7 0 1,0 7.4,0a3.7,3.7 0 1,0-7.4,0M662.5,590.4a3.7,3.7 0 1,0 7.4,0a3.7,3.7 0 1,0-7.4,0M658.6,594.4a3.7,3.7 0 1,0 7.4,0a3.7,3.7 0 1,0-7.4,0M663.0,596.4a3.7,3.7 0 1,0 7.4,0a3.7,3.7 0 1,0-7.4,0M661.9,599.8a3.7,3.7 0 1,0 7.4,0a3.7,3.7 0 1,0-7.4,0M660.8,603.2a3.7,3.7 0 1,0 7.4,0a3.7,3.7 0 1,0-7.4,0M664.2,605.3a3.7,3.7 0 1,0 7.4,0a3.7,3.7 0 1,0-7.4,0M666.8,607.3a3.7,3.7 0 1,0 7.4,0a3.7,3.7 0 1,0-7.4,0M669.1,609.5a3.7,3.7 0 1,0 7.4,0a3.7,3.7 0 1,0-7.4,0M668.7,613.2a3.7,3.7 0 1,0 7.4,0a3.7,3.7 0 1,0-7.4,0M670.5,615.6a3.7,3.7 0 1,0 7.4,0a3.7,3.7 0 1,0-7.4,0M673.5,617.4a3.7,3.7 0 1,0 7.4,0a3.7,3.7 0 1,0-7.4,0M674.4,620.3a3.7,3.7 0 1,0 7.4,0a3.7,3.7 0 1,0-7.4,0M672.3,624.8a3.7,3.7 0 1,0 7.4,0a3.7,3.7 0 1,0-7.4,0M676.0,626.3a3.7,3.7 0 1,0 7.4,0a3.7,3.7 0 1,0-7.4,0M677.6,628.8a3.7,3.7 0 1,0 7.4,0a3.7,3.7 0 1,0-7.4,0M680.5,630.6a3.7,3.7 0 1,0 7.4,0a3.7,3.7 0 1,0-7.4,0M680.9,633.8a3.7,3.7 0 1,0 7.4,0a3.7,3.7 0 1,0-7.4,0M682.5,636.3a3.7,3.7 0 1,0 7.4,0a3.7,3.7 0 1,0-7.4,0M683.6,639.2a3.7,3.7 0 1,0 7.4,0a3.7,3.7 0 1,0-7.4,0M683.2,642.9a3.7,3.7 0 1,0 7.4,0a3.7,3.7 0 1,0-7.4,0M684.2,645.8a3.7,3.7 0 1,0 7.4,0a3.7,3.7 0 1,0-7.4,0M689.5,646.3a3.7,3.7 0 1,0 7.4,0a3.7,3.7 0 1,0-7.4,0M687.7,650.6a3.7,3.7 0 1,0 7.4,0a3.7,3.7 0 1,0-7.4,0M692.1,651.7a3.7,3.7 0 1,0 7.4,0a3.7,3.7 0 1,0-7.4,0M691.6,655.3a3.7,3.7 0 1,0 7.4,0a3.7,3.7 0 1,0-7.4,0M691.7,658.6a3.7,3.7 0 1,0 7.4,0a3.7,3.7 0 1,0-7.4,0M693.4,661.1a3.7,3.7 0 1,0 7.4,0a3.7,3.7 0 1,0-7.4,0M695.9,663.2a3.7,3.7 0 1,0 7.4,0a3.7,3.7 0 1,0-7.4,0M698.0,665.6a3.7,3.7 0 1,0 7.4,0a3.7,3.7 0 1,0-7.4,0M699.2,668.3a3.7,3.7 0 1,0 7.4,0a3.7,3.7 0 1,0-7.4,0M699.5,671.5a3.7,3.7 0 1,0 7.4,0a3.7,3.7 0 1,0-7.4,0M702.4,673.5a3.7,3.7 0 1,0 7.4,0a3.7,3.7 0 1,0-7.4,0M703.0,676.2a3.7,3.7 0 1,0 7.4,0a3.7,3.7 0 1,0-7.4,0M702.0,680.5a3.7,3.7 0 1,0 7.4,0a3.7,3.7 0 1,0-7.4,0M705.6,681.7a3.7,3.7 0 1,0 7.4,0a3.7,3.7 0 1,0-7.4,0M707.5,684.0a3.7,3.7 0 1,0 7.4,0a3.7,3.7 0 1,0-7.4,0M706.6,688.3a3.7,3.7 0 1,0 7.4,0a3.7,3.7 0 1,0-7.4,0M709.7,689.9a3.7,3.7 0 1,0 7.4,0a3.7,3.7 0 1,0-7.4,0M712.9,691.1a3.7,3.7 0 1,0 7.4,0a3.7,3.7 0 1,0-7.4,0M714.1,694.0a3.7,3.7 0 1,0 7.4,0a3.7,3.7 0 1,0-7.4,0M714.3,697.7a3.7,3.7 0 1,0 7.4,0a3.7,3.7 0 1,0-7.4,0M716.9,699.5a3.7,3.7 0 1,0 7.4,0a3.7,3.7 0 1,0-7.4,0M719.2,701.5a3.7,3.7 0 1,0 7.4,0a3.7,3.7 0 1,0-7.4,0M719.8,704.9a3.7,3.7 0 1,0 7.4,0a3.7,3.7 0 1,0-7.4,0M721.8,707.5a3.7,3.7 0 1,0 7.4,0a3.7,3.7 0 1,0-7.4,0M726.8,706.5a3.7,3.7 0 1,0 7.4,0a3.7,3.7 0 1,0-7.4,0M726.4,711.4a3.7,3.7 0 1,0 7.4,0a3.7,3.7 0 1,0-7.4,0M729.2,712.8a3.7,3.7 0 1,0 7.4,0a3.7,3.7 0 1,0-7.4,0" fill="#F7A868" fill-opacity="0.35" stroke="#F38638" stroke-opacity="0.55" stroke-width="1.05" stroke-linejoin="round"/>
<path d="M594.4,366.9a3.7,3.7 0 1,0 7.4,0a3.7,3.7 0 1,0-7.4,0M594.4,369.8a3.7,3.7 0 1,0 7.4,0a3.7,3.7 0 1,0-7.4,0M595.5,372.3a3.7,3.7 0 1,0 7.4,0a3.7,3.7 0 1,0-7.4,0M597.2,374.5a3.7,3.7 0 1,0 7.4,0a3.7,3.7 0 1,0-7.4,0M597.9,377.2a3.7,3.7 0 1,0 7.4,0a3.7,3.7 0 1,0-7.4,0M599.8,379.3a3.7,3.7 0 1,0 7.4,0a3.7,3.7 0 1,0-7.4,0M598.8,382.5a3.7,3.7 0 1,0 7.4,0a3.7,3.7 0 1,0-7.4,0M601.1,384.6a3.7,3.7 0 1,0 7.4,0a3.7,3.7 0 1,0-7.4,0M604.0,386.5a3.7,3.7 0 1,0 7.4,0a3.7,3.7 0 1,0-7.4,0M605.1,388.9a3.7,3.7 0 1,0 7.4,0a3.7,3.7 0 1,0-7.4,0M603.1,392.4a3.7,3.7 0 1,0 7.4,0a3.7,3.7 0 1,0-7.4,0M606.4,394.2a3.7,3.7 0 1,0 7.4,0a3.7,3.7 0 1,0-7.4,0M607.3,396.7a3.7,3.7 0 1,0 7.4,0a3.7,3.7 0 1,0-7.4,0M607.8,399.5a3.7,3.7 0 1,0 7.4,0a3.7,3.7 0 1,0-7.4,0M607.1,402.5a3.7,3.7 0 1,0 7.4,0a3.7,3.7 0 1,0-7.4,0M609.2,404.8a3.7,3.7 0 1,0 7.4,0a3.7,3.7 0 1,0-7.4,0M608.8,407.6a3.7,3.7 0 1,0 7.4,0a3.7,3.7 0 1,0-7.4,0M607.5,410.7a3.7,3.7 0 1,0 7.4,0a3.7,3.7 0 1,0-7.4,0M609.4,413.0a3.7,3.7 0 1,0 7.4,0a3.7,3.7 0 1,0-7.4,0M609.0,415.9a3.7,3.7 0 1,0 7.4,0a3.7,3.7 0 1,0-7.4,0M607.8,418.9a3.7,3.7 0 1,0 7.4,0a3.7,3.7 0 1,0-7.4,0M612.6,420.7a3.7,3.7 0 1,0 7.4,0a3.7,3.7 0 1,0-7.4,0M609.8,424.0a3.7,3.7 0 1,0 7.4,0a3.7,3.7 0 1,0-7.4,0M612.1,426.3a3.7,3.7 0 1,0 7.4,0a3.7,3.7 0 1,0-7.4,0M613.4,428.8a3.7,3.7 0 1,0 7.4,0a3.7,3.7 0 1,0-7.4,0M612.4,431.7a3.7,3.7 0 1,0 7.4,0a3.7,3.7 0 1,0-7.4,0M615.5,433.8a3.7,3.7 0 1,0 7.4,0a3.7,3.7 0 1,0-7.4,0M615.9,436.5a3.7,3.7 0 1,0 7.4,0a3.7,3.7 0 1,0-7.4,0M612.9,439.9a3.7,3.7 0 1,0 7.4,0a3.7,3.7 0 1,0-7.4,0M617.0,441.8a3.7,3.7 0 1,0 7.4,0a3.7,3.7 0 1,0-7.4,0M616.2,444.7a3.7,3.7 0 1,0 7.4,0a3.7,3.7 0 1,0-7.4,0M617.1,447.3a3.7,3.7 0 1,0 7.4,0a3.7,3.7 0 1,0-7.4,0M617.8,449.9a3.7,3.7 0 1,0 7.4,0a3.7,3.7 0 1,0-7.4,0M619.2,452.2a3.7,3.7 0 1,0 7.4,0a3.7,3.7 0 1,0-7.4,0M618.8,455.1a3.7,3.7 0 1,0 7.4,0a3.7,3.7 0 1,0-7.4,0M618.8,457.9a3.7,3.7 0 1,0 7.4,0a3.7,3.7 0 1,0-7.4,0M621.9,459.7a3.7,3.7 0 1,0 7.4,0a3.7,3.7 0 1,0-7.4,0M619.4,463.4a3.7,3.7 0 1,0 7.4,0a3.7,3.7 0 1,0-7.4,0M621.4,465.6a3.7,3.7 0 1,0 7.4,0a3.7,3.7 0 1,0-7.4,0M620.7,468.7a3.7,3.7 0 1,0 7.4,0a3.7,3.7 0 1,0-7.4,0M621.4,471.3a3.7,3.7 0 1,0 7.4,0a3.7,3.7 0 1,0-7.4,0M623.0,473.6a3.7,3.7 0 1,0 7.4,0a3.7,3.7 0 1,0-7.4,0M623.0,476.3a3.7,3.7 0 1,0 7.4,0a3.7,3.7 0 1,0-7.4,0M625.8,478.4a3.7,3.7 0 1,0 7.4,0a3.7,3.7 0 1,0-7.4,0M627.8,480.6a3.7,3.7 0 1,0 7.4,0a3.7,3.7 0 1,0-7.4,0M627.9,483.4a3.7,3.7 0 1,0 7.4,0a3.7,3.7 0 1,0-7.4,0M625.8,486.8a3.7,3.7 0 1,0 7.4,0a3.7,3.7 0 1,0-7.4,0M629.2,488.6a3.7,3.7 0 1,0 7.4,0a3.7,3.7 0 1,0-7.4,0M629.1,491.5a3.7,3.7 0 1,0 7.4,0a3.7,3.7 0 1,0-7.4,0M630.7,493.8a3.7,3.7 0 1,0 7.4,0a3.7,3.7 0 1,0-7.4,0M630.1,496.8a3.7,3.7 0 1,0 7.4,0a3.7,3.7 0 1,0-7.4,0M631.9,499.1a3.7,3.7 0 1,0 7.4,0a3.7,3.7 0 1,0-7.4,0M632.3,501.8a3.7,3.7 0 1,0 7.4,0a3.7,3.7 0 1,0-7.4,0M633.9,504.2a3.7,3.7 0 1,0 7.4,0a3.7,3.7 0 1,0-7.4,0M634.3,506.9a3.7,3.7 0 1,0 7.4,0a3.7,3.7 0 1,0-7.4,0M636.0,509.2a3.7,3.7 0 1,0 7.4,0a3.7,3.7 0 1,0-7.4,0M635.8,512.0a3.7,3.7 0 1,0 7.4,0a3.7,3.7 0 1,0-7.4,0M634.0,515.5a3.7,3.7 0 1,0 7.4,0a3.7,3.7 0 1,0-7.4,0M634.1,518.6a3.7,3.7 0 1,0 7.4,0a3.7,3.7 0 1,0-7.4,0M634.4,521.6a3.7,3.7 0 1,0 7.4,0a3.7,3.7 0 1,0-7.4,0M636.7,524.1a3.7,3.7 0 1,0 7.4,0a3.7,3.7 0 1,0-7.4,0M636.3,527.3a3.7,3.7 0 1,0 7.4,0a3.7,3.7 0 1,0-7.4,0M637.4,530.1a3.7,3.7 0 1,0 7.4,0a3.7,3.7 0 1,0-7.4,0M639.6,532.7a3.7,3.7 0 1,0 7.4,0a3.7,3.7 0 1,0-7.4,0M639.1,536.1a3.7,3.7 0 1,0 7.4,0a3.7,3.7 0 1,0-7.4,0M640.9,538.6a3.7,3.7 0 1,0 7.4,0a3.7,3.7 0 1,0-7.4,0M645.0,540.2a3.7,3.7 0 1,0 7.4,0a3.7,3.7 0 1,0-7.4,0M645.8,543.2a3.7,3.7 0 1,0 7.4,0a3.7,3.7 0 1,0-7.4,0M644.4,546.9a3.7,3.7 0 1,0 7.4,0a3.7,3.7 0 1,0-7.4,0M646.1,549.4a3.7,3.7 0 1,0 7.4,0a3.7,3.7 0 1,0-7.4,0M646.2,552.7a3.7,3.7 0 1,0 7.4,0a3.7,3.7 0 1,0-7.4,0M647.9,555.3a3.7,3.7 0 1,0 7.4,0a3.7,3.7 0 1,0-7.4,0M651.0,557.1a3.7,3.7 0 1,0 7.4,0a3.7,3.7 0 1,0-7.4,0M650.1,560.8a3.7,3.7 0 1,0 7.4,0a3.7,3.7 0 1,0-7.4,0M650.2,564.1a3.7,3.7 0 1,0 7.4,0a3.7,3.7 0 1,0-7.4,0M653.7,565.8a3.7,3.7 0 1,0 7.4,0a3.7,3.7 0 1,0-7.4,0M654.0,568.8a3.7,3.7 0 1,0 7.4,0a3.7,3.7 0 1,0-7.4,0M657.0,571.1a3.7,3.7 0 1,0 7.4,0a3.7,3.7 0 1,0-7.4,0M657.0,574.2a3.7,3.7 0 1,0 7.4,0a3.7,3.7 0 1,0-7.4,0M658.9,576.8a3.7,3.7 0 1,0 7.4,0a3.7,3.7 0 1,0-7.4,0M656.5,580.5a3.7,3.7 0 1,0 7.4,0a3.7,3.7 0 1,0-7.4,0M658.1,583.2a3.7,3.7 0 1,0 7.4,0a3.7,3.7 0 1,0-7.4,0M660.8,585.6a3.7,3.7 0 1,0 7.4,0a3.7,3.7 0 1,0-7.4,0M657.3,589.6a3.7,3.7 0 1,0 7.4,0a3.7,3.7 0 1,0-7.4,0M660.6,591.9a3.7,3.7 0 1,0 7.4,0a3.7,3.7 0 1,0-7.4,0M661.3,594.8a3.7,3.7 0 1,0 7.4,0a3.7,3.7 0 1,0-7.4,0M659.6,598.3a3.7,3.7 0 1,0 7.4,0a3.7,3.7 0 1,0-7.4,0M664.3,600.2a3.7,3.7 0 1,0 7.4,0a3.7,3.7 0 1,0-7.4,0M665.0,602.9a3.7,3.7 0 1,0 7.4,0a3.7,3.7 0 1,0-7.4,0M663.0,607.1a3.7,3.7 0 1,0 7.4,0a3.7,3.7 0 1,0-7.4,0M664.3,609.8a3.7,3.7 0 1,0 7.4,0a3.7,3.7 0 1,0-7.4,0M669.7,610.3a3.7,3.7 0 1,0 7.4,0a3.7,3.7 0 1,0-7.4,0M669.8,613.7a3.7,3.7 0 1,0 7.4,0a3.7,3.7 0 1,0-7.4,0M671.1,616.4a3.7,3.7 0 1,0 7.4,0a3.7,3.7 0 1,0-7.4,0M670.6,620.0a3.7,3.7 0 1,0 7.4,0a3.7,3.7 0 1,0-7.4,0M671.3,623.1a3.7,3.7 0 1,0 7.4,0a3.7,3.7 0 1,0-7.4,0M675.5,624.3a3.7,3.7 0 1,0 7.4,0a3.7,3.7 0 1,0-7.4,0M673.8,628.6a3.7,3.7 0 1,0 7.4,0a3.7,3.7 0 1,0-7.4,0M677.8,629.8a3.7,3.7 0 1,0 7.4,0a3.7,3.7 0 1,0-7.4,0M680.7,631.6a3.7,3.7 0 1,0 7.4,0a3.7,3.7 0 1,0-7.4,0M678.6,636.3a3.7,3.7 0 1,0 7.4,0a3.7,3.7 0 1,0-7.4,0M682.0,637.8a3.7,3.7 0 1,0 7.4,0a3.7,3.7 0 1,0-7.4,0M681.6,641.5a3.7,3.7 0 1,0 7.4,0a3.7,3.7 0 1,0-7.4,0M684.5,643.3a3.7,3.7 0 1,0 7.4,0a3.7,3.7 0 1,0-7.4,0M686.3,645.6a3.7,3.7 0 1,0 7.4,0a3.7,3.7 0 1,0-7.4,0M686.9,648.7a3.7,3.7 0 1,0 7.4,0a3.7,3.7 0 1,0-7.4,0M688.6,651.2a3.7,3.7 0 1,0 7.4,0a3.7,3.7 0 1,0-7.4,0M688.7,654.5a3.7,3.7 0 1,0 7.4,0a3.7,3.7 0 1,0-7.4,0M692.6,655.9a3.7,3.7 0 1,0 7.4,0a3.7,3.7 0 1,0-7.4,0M691.1,660.0a3.7,3.7 0 1,0 7.4,0a3.7,3.7 0 1,0-7.4,0M695.5,661.2a3.7,3.7 0 1,0 7.4,0a3.7,3.7 0 1,0-7.4,0M697.3,663.7a3.7,3.7 0 1,0 7.4,0a3.7,3.7 0 1,0-7.4,0M695.3,667.9a3.7,3.7 0 1,0 7.4,0a3.7,3.7 0 1,0-7.4,0M696.5,670.7a3.7,3.7 0 1,0 7.4,0a3.7,3.7 0 1,0-7.4,0M701.3,671.7a3.7,3.7 0 1,0 7.4,0a3.7,3.7 0 1,0-7.4,0M701.6,674.9a3.7,3.7 0 1,0 7.4,0a3.7,3.7 0 1,0-7.4,0M703.5,677.1a3.7,3.7 0 1,0 7.4,0a3.7,3.7 0 1,0-7.4,0M703.1,681.0a3.7,3.7 0 1,0 7.4,0a3.7,3.7 0 1,0-7.4,0M705.7,682.9a3.7,3.7 0 1,0 7.4,0a3.7,3.7 0 1,0-7.4,0M709.2,684.1a3.7,3.7 0 1,0 7.4,0a3.7,3.7 0 1,0-7.4,0M710.6,686.8a3.7,3.7 0 1,0 7.4,0a3.7,3.7 0 1,0-7.4,0M709.4,691.4a3.7,3.7 0 1,0 7.4,0a3.7,3.7 0 1,0-7.4,0M713.7,691.8a3.7,3.7 0 1,0 7.4,0a3.7,3.7 0 1,0-7.4,0M712.8,696.4a3.7,3.7 0 1,0 7.4,0a3.7,3.7 0 1,0-7.4,0M718.3,695.8a3.7,3.7 0 1,0 7.4,0a3.7,3.7 0 1,0-7.4,0M716.8,700.9a3.7,3.7 0 1,0 7.4,0a3.7,3.7 0 1,0-7.4,0M722.1,700.4a3.7,3.7 0 1,0 7.4,0a3.7,3.7 0 1,0-7.4,0M720.8,705.3a3.7,3.7 0 1,0 7.4,0a3.7,3.7 0 1,0-7.4,0M725.0,705.5a3.7,3.7 0 1,0 7.4,0a3.7,3.7 0 1,0-7.4,0M726.3,708.5a3.7,3.7 0 1,0 7.4,0a3.7,3.7 0 1,0-7.4,0M727.9,711.3a3.7,3.7 0 1,0 7.4,0a3.7,3.7 0 1,0-7.4,0" fill="#F7A868" fill-opacity="0.35" stroke="#F38638" stroke-opacity="0.55" stroke-width="1.05" stroke-linejoin="round"/>
<path d="M596.2,367.2a3.7,3.7 0 1,0 7.4,0a3.7,3.7 0 1,0-7.4,0M596.0,370.2a3.7,3.7 0 1,0 7.4,0a3.7,3.7 0 1,0-7.4,0M595.2,373.4a3.7,3.7 0 1,0 7.4,0a3.7,3.7 0 1,0-7.4,0M598.1,375.1a3.7,3.7 0 1,0 7.4,0a3.7,3.7 0 1,0-7.4,0M599.4,377.5a3.7,3.7 0 1,0 7.4,0a3.7,3.7 0 1,0-7.4,0M597.9,380.9a3.7,3.7 0 1,0 7.4,0a3.7,3.7 0 1,0-7.4,0M598.8,383.4a3.7,3.7 0 1,0 7.4,0a3.7,3.7 0 1,0-7.4,0M599.6,386.0a3.7,3.7 0 1,0 7.4,0a3.7,3.7 0 1,0-7.4,0M604.3,387.3a3.7,3.7 0 1,0 7.4,0a3.7,3.7 0 1,0-7.4,0M604.6,390.0a3.7,3.7 0 1,0 7.4,0a3.7,3.7 0 1,0-7.4,0M602.9,393.5a3.7,3.7 0 1,0 7.4,0a3.7,3.7 0 1,0-7.4,0M604.0,395.9a3.7,3.7 0 1,0 7.4,0a3.7,3.7 0 1,0-7.4,0M604.1,398.7a3.7,3.7 0 1,0 7.4,0a3.7,3.7 0 1,0-7.4,0M604.4,401.2a3.7,3.7 0 1,0 7.4,0a3.7,3.7 0 1,0-7.4,0M604.8,403.9a3.7,3.7 0 1,0 7.4,0a3.7,3.7 0 1,0-7.4,0M608.0,406.0a3.7,3.7 0 1,0 7.4,0a3.7,3.7 0 1,0-7.4,0M609.7,408.4a3.7,3.7 0 1,0 7.4,0a3.7,3.7 0 1,0-7.4,0M611.1,410.9a3.7,3.7 0 1,0 7.4,0a3.7,3.7 0 1,0-7.4,0M611.6,413.5a3.7,3.7 0 1,0 7.4,0a3.7,3.7 0 1,0-7.4,0M609.7,416.6a3.7,3.7 0 1,0 7.4,0a3.7,3.7 0 1,0-7.4,0M608.9,419.6a3.7,3.7 0 1,0 7.4,0a3.7,3.7 0 1,0-7.4,0M612.0,421.7a3.7,3.7 0 1,0 7.4,0a3.7,3.7 0 1,0-7.4,0M612.5,424.4a3.7,3.7 0 1,0 7.4,0a3.7,3.7 0 1,0-7.4,0M609.9,427.6a3.7,3.7 0 1,0 7.4,0a3.7,3.7 0 1,0-7.4,0M614.1,429.5a3.7,3.7 0 1,0 7.4,0a3.7,3.7 0 1,0-7.4,0M612.0,432.7a3.7,3.7 0 1,0 7.4,0a3.7,3.7 0 1,0-7.4,0M612.6,435.4a3.7,3.7 0 1,0 7.4,0a3.7,3.7 0 1,0-7.4,0M611.9,438.2a3.7,3.7 0 1,0 7.4,0a3.7,3.7 0 1,0-7.4,0M616.6,440.0a3.7,3.7 0 1,0 7.4,0a3.7,3.7 0 1,0-7.4,0M613.3,443.5a3.7,3.7 0 1,0 7.4,0a3.7,3.7 0 1,0-7.4,0M615.4,445.8a3.7,3.7 0 1,0 7.4,0a3.7,3.7 0 1,0-7.4,0M618.0,448.0a3.7,3.7 0 1,0 7.4,0a3.7,3.7 0 1,0-7.4,0M618.6,450.7a3.7,3.7 0 1,0 7.4,0a3.7,3.7 0 1,0-7.4,0M618.8,453.2a3.7,3.7 0 1,0 7.4,0a3.7,3.7 0 1,0-7.4,0M617.0,456.6a3.7,3.7 0 1,0 7.4,0a3.7,3.7 0 1,0-7.4,0M620.6,458.3a3.7,3.7 0 1,0 7.4,0a3.7,3.7 0 1,0-7.4,0M621.1,461.0a3.7,3.7 0 1,0 7.4,0a3.7,3.7 0 1,0-7.4,0M620.5,464.0a3.7,3.7 0 1,0 7.4,0a3.7,3.7 0 1,0-7.4,0M619.5,467.2a3.7,3.7 0 1,0 7.4,0a3.7,3.7 0 1,0-7.4,0M622.8,468.9a3.7,3.7 0 1,0 7.4,0a3.7,3.7 0 1,0-7.4,0M623.8,471.4a3.7,3.7 0 1,0 7.4,0a3.7,3.7 0 1,0-7.4,0M621.8,474.8a3.7,3.7 0 1,0 7.4,0a3.7,3.7 0 1,0-7.4,0M623.8,477.0a3.7,3.7 0 1,0 7.4,0a3.7,3.7 0 1,0-7.4,0M626.3,479.2a3.7,3.7 0 1,0 7.4,0a3.7,3.7 0 1,0-7.4,0M628.3,481.4a3.7,3.7 0 1,0 7.4,0a3.7,3.7 0 1,0-7.4,0M628.6,484.1a3.7,3.7 0 1,0 7.4,0a3.7,3.7 0 1,0-7.4,0M625.9,487.7a3.7,3.7 0 1,0 7.4,0a3.7,3.7 0 1,0-7.4,0M629.7,489.4a3.7,3.7 0 1,0 7.4,0a3.7,3.7 0 1,0-7.4,0M630.8,491.9a3.7,3.7 0 1,0 7.4,0a3.7,3.7 0 1,0-7.4,0M627.6,495.6a3.7,3.7 0 1,0 7.4,0a3.7,3.7 0 1,0-7.4,0M631.8,497.3a3.7,3.7 0 1,0 7.4,0a3.7,3.7 0 1,0-7.4,0M631.9,500.0a3.7,3.7 0 1,0 7.4,0a3.7,3.7 0 1,0-7.4,0M632.1,502.8a3.7,3.7 0 1,0 7.4,0a3.7,3.7 0 1,0-7.4,0M632.6,505.4a3.7,3.7 0 1,0 7.4,0a3.7,3.7 0 1,0-7.4,0M635.3,507.5a3.7,3.7 0 1,0 7.4,0a3.7,3.7 0 1,0-7.4,0M636.4,510.0a3.7,3.7 0 1,0 7.4,0a3.7,3.7 0 1,0-7.4,0M634.3,513.4a3.7,3.7 0 1,0 7.4,0a3.7,3.7 0 1,0-7.4,0M634.7,516.4a3.7,3.7 0 1,0 7.4,0a3.7,3.7 0 1,0-7.4,0M636.7,519.0a3.7,3.7 0 1,0 7.4,0a3.7,3.7 0 1,0-7.4,0M638.6,521.6a3.7,3.7 0 1,0 7.4,0a3.7,3.7 0 1,0-7.4,0M639.9,524.3a3.7,3.7 0 1,0 7.4,0a3.7,3.7 0 1,0-7.4,0M637.8,528.0a3.7,3.7 0 1,0 7.4,0a3.7,3.7 0 1,0-7.4,0M640.9,530.3a3.7,3.7 0 1,0 7.4,0a3.7,3.7 0 1,0-7.4,0M638.3,534.2a3.7,3.7 0 1,0 7.4,0a3.7,3.7 0 1,0-7.4,0M640.6,536.6a3.7,3.7 0 1,0 7.4,0a3.7,3.7 0 1,0-7.4,0M641.2,539.6a3.7,3.7 0 1,0 7.4,0a3.7,3.7 0 1,0-7.4,0M644.9,541.3a3.7,3.7 0 1,0 7.4,0a3.7,3.7 0 1,0-7.4,0M642.7,545.4a3.7,3.7 0 1,0 7.4,0a3.7,3.7 0 1,0-7.4,0M644.8,547.8a3.7,3.7 0 1,0 7.4,0a3.7,3.7 0 1,0-7.4,0M648.7,549.4a3.7,3.7 0 1,0 7.4,0a3.7,3.7 0 1,0-7.4,0M647.7,553.1a3.7,3.7 0 1,0 7.4,0a3.7,3.7 0 1,0-7.4,0M651.0,554.9a3.7,3.7 0 1,0 7.4,0a3.7,3.7 0 1,0-7.4,0M652.2,557.6a3.7,3.7 0 1,0 7.4,0a3.7,3.7 0 1,0-7.4,0M652.9,560.6a3.7,3.7 0 1,0 7.4,0a3.7,3.7 0 1,0-7.4,0M652.8,564.0a3.7,3.7 0 1,0 7.4,0a3.7,3.7 0 1,0-7.4,0M653.2,567.0a3.7,3.7 0 1,0 7.4,0a3.7,3.7 0 1,0-7.4,0M654.1,569.8a3.7,3.7 0 1,0 7.4,0a3.7,3.7 0 1,0-7.4,0M656.8,572.2a3.7,3.7 0 1,0 7.4,0a3.7,3.7 0 1,0-7.4,0M656.0,575.5a3.7,3.7 0 1,0 7.4,0a3.7,3.7 0 1,0-7.4,0M658.1,578.1a3.7,3.7 0 1,0 7.4,0a3.7,3.7 0 1,0-7.4,0M656.9,581.5a3.7,3.7 0 1,0 7.4,0a3.7,3.7 0 1,0-7.4,0M658.6,584.1a3.7,3.7 0 1,0 7.4,0a3.7,3.7 0 1,0-7.4,0M657.3,587.5a3.7,3.7 0 1,0 7.4,0a3.7,3.7 0 1,0-7.4,0M657.8,590.5a3.7,3.7 0 1,0 7.4,0a3.7,3.7 0 1,0-7.4,0M659.0,593.3a3.7,3.7 0 1,0 7.4,0a3.7,3.7 0 1,0-7.4,0M662.4,595.5a3.7,3.7 0 1,0 7.4,0a3.7,3.7 0 1,0-7.4,0M663.4,598.4a3.7,3.7 0 1,0 7.4,0a3.7,3.7 0 1,0-7.4,0M662.6,601.7a3.7,3.7 0 1,0 7.4,0a3.7,3.7 0 1,0-7.4,0M662.3,605.2a3.7,3.7 0 1,0 7.4,0a3.7,3.7 0 1,0-7.4,0M664.3,607.6a3.7,3.7 0 1,0 7.4,0a3.7,3.7 0 1,0-7.4,0M666.6,609.7a3.7,3.7 0 1,0 7.4,0a3.7,3.7 0 1,0-7.4,0M668.0,612.4a3.7,3.7 0 1,0 7.4,0a3.7,3.7 0 1,0-7.4,0M671.0,614.2a3.7,3.7 0 1,0 7.4,0a3.7,3.7 0 1,0-7.4,0M669.3,618.5a3.7,3.7 0 1,0 7.4,0a3.7,3.7 0 1,0-7.4,0M670.7,621.1a3.7,3.7 0 1,0 7.4,0a3.7,3.7 0 1,0-7.4,0M672.7,623.5a3.7,3.7 0 1,0 7.4,0a3.7,3.7 0 1,0-7.4,0M675.6,625.3a3.7,3.7 0 1,0 7.4,0a3.7,3.7 0 1,0-7.4,0M676.1,628.5a3.7,3.7 0 1,0 7.4,0a3.7,3.7 0 1,0-7.4,0M679.0,630.3a3.7,3.7 0 1,0 7.4,0a3.7,3.7 0 1,0-7.4,0M678.1,634.3a3.7,3.7 0 1,0 7.4,0a3.7,3.7 0 1,0-7.4,0M682.1,635.4a3.7,3.7 0 1,0 7.4,0a3.7,3.7 0 1,0-7.4,0M683.9,637.8a3.7,3.7 0 1,0 7.4,0a3.7,3.7 0 1,0-7.4,0M682.4,642.2a3.7,3.7 0 1,0 7.4,0a3.7,3.7 0 1,0-7.4,0M683.8,644.8a3.7,3.7 0 1,0 7.4,0a3.7,3.7 0 1,0-7.4,0M686.0,646.9a3.7,3.7 0 1,0 7.4,0a3.7,3.7 0 1,0-7.4,0M688.6,649.0a3.7,3.7 0 1,0 7.4,0a3.7,3.7 0 1,0-7.4,0M690.6,651.3a3.7,3.7 0 1,0 7.4,0a3.7,3.7 0 1,0-7.4,0M692.7,653.7a3.7,3.7 0 1,0 7.4,0a3.7,3.7 0 1,0-7.4,0M693.3,656.7a3.7,3.7 0 1,0 7.4,0a3.7,3.7 0 1,0-7.4,0M694.8,659.3a3.7,3.7 0 1,0 7.4,0a3.7,3.7 0 1,0-7.4,0M694.7,662.7a3.7,3.7 0 1,0 7.4,0a3.7,3.7 0 1,0-7.4,0M697.8,664.6a3.7,3.7 0 1,0 7.4,0a3.7,3.7 0 1,0-7.4,0M697.6,668.0a3.7,3.7 0 1,0 7.4,0a3.7,3.7 0 1,0-7.4,0M696.6,671.8a3.7,3.7 0 1,0 7.4,0a3.7,3.7 0 1,0-7.4,0M701.5,672.8a3.7,3.7 0 1,0 7.4,0a3.7,3.7 0 1,0-7.4,0M703.2,675.1a3.7,3.7 0 1,0 7.4,0a3.7,3.7 0 1,0-7.4,0M702.7,678.8a3.7,3.7 0 1,0 7.4,0a3.7,3.7 0 1,0-7.4,0M705.0,680.9a3.7,3.7 0 1,0 7.4,0a3.7,3.7 0 1,0-7.4,0M706.8,683.3a3.7,3.7 0 1,0 7.4,0a3.7,3.7 0 1,0-7.4,0M708.9,685.5a3.7,3.7 0 1,0 7.4,0a3.7,3.7 0 1,0-7.4,0M709.6,688.7a3.7,3.7 0 1,0 7.4,0a3.7,3.7 0 1,0-7.4,0M712.5,690.2a3.7,3.7 0 1,0 7.4,0a3.7,3.7 0 1,0-7.4,0M713.7,693.1a3.7,3.7 0 1,0 7.4,0a3.7,3.7 0 1,0-7.4,0M713.8,696.8a3.7,3.7 0 1,0 7.4,0a3.7,3.7 0 1,0-7.4,0M718.9,696.6a3.7,3.7 0 1,0 7.4,0a3.7,3.7 0 1,0-7.4,0M719.0,700.3a3.7,3.7 0 1,0 7.4,0a3.7,3.7 0 1,0-7.4,0M721.2,702.4a3.7,3.7 0 1,0 7.4,0a3.7,3.7 0 1,0-7.4,0M721.4,706.3a3.7,3.7 0 1,0 7.4,0a3.7,3.7 0 1,0-7.4,0M726.2,705.7a3.7,3.7 0 1,0 7.4,0a3.7,3.7 0 1,0-7.4,0M726.5,709.8a3.7,3.7 0 1,0 7.4,0a3.7,3.7 0 1,0-7.4,0M728.9,711.7a3.7,3.7 0 1,0 7.4,0a3.7,3.7 0 1,0-7.4,0" fill="#F7A868" fill-opacity="0.35" stroke="#F38638" stroke-opacity="0.55" stroke-width="1.05" stroke-linejoin="round"/>
<polygon points="580.5,337.0 583.0,334.0 587.0,333.5 590.5,336.0 591.5,340.0 590.0,344.5 586.0,347.0 582.0,345.5 580.0,341.5" fill="#F58A3C" fill-opacity="1.0"/>
<path d="M509.3,244.6a3.7,3.7 0 1,0 7.4,0a3.7,3.7 0 1,0-7.4,0M518.8,254.1a3.7,3.7 0 1,0 7.4,0a3.7,3.7 0 1,0-7.4,0" fill="#f6a868" fill-opacity="0.8" stroke="#F28A3A" stroke-opacity="0.9" stroke-width="1.05" stroke-linejoin="round"/>
<path d="M512.1,246.9a3.7,3.7 0 1,0 7.4,0a3.7,3.7 0 1,0-7.4,0M513.3,248.0a3.7,3.7 0 1,0 7.4,0a3.7,3.7 0 1,0-7.4,0" fill="#f6a868" fill-opacity="0.8" stroke="#F28A3A" stroke-opacity="0.9" stroke-width="1.05" stroke-linejoin="round"/>
<path d="M515.4,250.2a3.7,3.7 0 1,0 7.4,0a3.7,3.7 0 1,0-7.4,0" fill="#f6a868" fill-opacity="0.8" stroke="#F28A3A" stroke-opacity="0.9" stroke-width="1.05" stroke-linejoin="round"/></g>
<g clip-path="url(#pc)">
<polygon points="466.5,692 745,692 723,772 443.5,772" fill="#D8E4FF" fill-opacity="0.46"/>
<polygon points="740.9,526.8 882.5,526.8 817.5,769 676.8,769" fill="#A6E2FA" fill-opacity="0.55"/>
</g>
<g clip-path="url(#pc)"><polygon points="726.0,568.0 732.0,556.0 739.0,543.0 745.5,535.0 751.0,539.0 755.0,547.0 759.0,556.0 757.0,567.0 752.0,573.0 748.0,564.0 745.0,553.0 742.0,558.0 738.0,568.0 732.0,574.0" fill="#78AEEA" fill-opacity="1.0"/>
<polygon points="733.5,605.0 740.0,596.0 746.7,592.0 753.0,592.0 753.0,630.0 746.7,637.0 735.6,637.0 732.0,626.0" fill="#A4CCF0" fill-opacity="0.95"/>
<polygon points="733.5,626.0 747.0,626.0 748.0,637.0 736.0,637.0" fill="#6AA0E8" fill-opacity="0.9"/>
<polygon points="753.4,595.6 760.0,589.0 766.8,587.3 772.4,596.7 770.2,613.5 768.0,626.9 765.7,638.0 760.0,645.0 753.0,642.0 752.3,625.0 752.3,607.9" fill="#7EAEE6" fill-opacity="1.0"/>
<polygon points="766.8,588.0 772.4,596.7 770.2,613.5 768.0,626.9 765.7,640.0 761.0,640.0 764.0,620.0 766.0,600.0" fill="#58A6F2" fill-opacity="1.0"/>
<polygon points="757.0,640.0 753.0,625.0 746.0,612.0 734.0,613.0 733.0,626.0 735.6,636.0 738.0,660.0 736.0,690.0 733.0,712.0 736.0,722.0 750.0,700.0 756.0,660.0" fill="#72B0F0" fill-opacity="0.95"/>
<polygon points="767.0,636.0 772.0,637.0 778.0,634.0 784.7,632.5 788.0,638.0 791.4,645.0 795.0,638.0 799.8,634.1 804.2,641.4 803.0,660.0 801.6,680.4 800.0,700.0 799.5,708.5 794.5,712.6 792.0,740.0 790.5,764.8 780.5,766.8 781.0,740.0 781.5,720.6 776.4,720.6 770.4,730.7 764.4,734.7 756.3,728.6 746.3,736.7 738.2,730.7 736.2,720.6 740.3,704.5 746.3,690.5 750.3,676.4 754.3,660.3 756.0,648.0 760.0,640.0" fill="#4DA0F5" fill-opacity="1.0"/>
<polygon points="750.0,680.0 755.7,647.0 760.0,650.0 758.0,672.0 754.0,690.0 748.0,700.0 744.0,696.0" fill="#5AA6F2" fill-opacity="1.0"/>
<polyline points="762.0,686.0 768.0,679.0 774.0,674.0 781.0,673.0" fill="none" stroke="#8CC6F8" stroke-opacity="0.8" stroke-width="2.2" stroke-linejoin="round" stroke-linecap="round"/>
<polygon points="736.0,712.0 730.0,714.0 722.0,720.0 712.0,726.0 703.0,732.0 698.0,738.0 702.0,742.0 712.0,738.0 724.0,732.0 736.0,728.0" fill="#6EA4E8" fill-opacity="0.95"/>
<path d="M726.3,560.9l4.8,9.5h-9.6zM731.1,553.3l4.8,9.5h-9.6zM737.6,546.6l4.8,9.5h-9.6zM740.6,537.8l4.8,9.5h-9.6zM747.1,536.3l4.8,9.5h-9.6zM752.7,543.0l4.8,9.5h-9.6zM757.5,550.9l4.8,9.5h-9.6zM754.2,559.5l4.8,9.5h-9.6zM744.0,600.8l4.8,9.5h-9.6zM738.0,622.8l4.8,9.5h-9.6zM740.0,642.8l4.8,9.5h-9.6zM746.0,670.8l4.8,9.5h-9.6zM738.0,694.8l4.8,9.5h-9.6zM731.0,710.7l4.8,9.5h-9.6zM727.1,715.6l4.8,9.5h-9.6zM721.7,717.8l4.8,9.5h-9.6zM717.9,723.3l4.8,9.5h-9.6zM713.3,727.4l4.8,9.5h-9.6zM706.7,728.0l4.8,9.5h-9.6zM701.6,731.2l4.8,9.5h-9.6z" fill="#b4d6f4" fill-opacity="0.8" stroke="#74ACEA" stroke-opacity="0.9" stroke-width="1.05" stroke-linejoin="round"/>
<path d="M728.8,558.8l4.8,9.5h-9.6zM733.0,550.9l4.8,9.5h-9.6zM738.5,543.7l4.8,9.5h-9.6zM743.3,536.1l4.8,9.5h-9.6zM750.7,537.0l4.8,9.5h-9.6zM754.8,545.3l4.8,9.5h-9.6zM754.6,553.4l4.8,9.5h-9.6zM754.0,562.6l4.8,9.5h-9.6zM740.0,612.8l4.8,9.5h-9.6zM744.0,624.8l4.8,9.5h-9.6zM744.0,650.8l4.8,9.5h-9.6zM742.0,682.8l4.8,9.5h-9.6zM736.3,711.2l4.8,9.5h-9.6zM731.6,715.0l4.8,9.5h-9.6zM727.3,719.3l4.8,9.5h-9.6zM721.3,721.3l4.8,9.5h-9.6zM714.8,721.7l4.8,9.5h-9.6zM712.1,729.1l4.8,9.5h-9.6zM704.2,727.6l4.8,9.5h-9.6z" fill="#b4d6f4" fill-opacity="0.8" stroke="#74ACEA" stroke-opacity="0.9" stroke-width="1.05" stroke-linejoin="round"/>
<path d="M731.5,556.8l4.8,9.5h-9.6zM734.0,548.0l4.8,9.5h-9.6zM738.7,540.1l4.8,9.5h-9.6zM745.5,534.1l4.8,9.5h-9.6zM752.6,539.4l4.8,9.5h-9.6zM756.4,547.9l4.8,9.5h-9.6zM756.1,556.9l4.8,9.5h-9.6zM738.0,604.8l4.8,9.5h-9.6zM746.0,610.8l4.8,9.5h-9.6zM750.0,616.8l4.8,9.5h-9.6zM740.0,662.8l4.8,9.5h-9.6zM748.0,656.8l4.8,9.5h-9.6zM733.1,710.2l4.8,9.5h-9.6zM730.6,717.0l4.8,9.5h-9.6zM726.2,721.5l4.8,9.5h-9.6zM718.5,720.1l4.8,9.5h-9.6zM714.2,724.9l4.8,9.5h-9.6zM708.7,727.4l4.8,9.5h-9.6zM705.0,732.9l4.8,9.5h-9.6z" fill="#b4d6f4" fill-opacity="0.8" stroke="#74ACEA" stroke-opacity="0.9" stroke-width="1.05" stroke-linejoin="round"/>
<path d="M695.9,686.0a3.7,3.7 0 1,0 7.4,0a3.7,3.7 0 1,0-7.4,0M700.4,691.3a3.7,3.7 0 1,0 7.4,0a3.7,3.7 0 1,0-7.4,0M708.2,698.0a3.7,3.7 0 1,0 7.4,0a3.7,3.7 0 1,0-7.4,0M713.4,702.3a3.7,3.7 0 1,0 7.4,0a3.7,3.7 0 1,0-7.4,0M717.8,707.6a3.7,3.7 0 1,0 7.4,0a3.7,3.7 0 1,0-7.4,0M724.2,710.6a3.7,3.7 0 1,0 7.4,0a3.7,3.7 0 1,0-7.4,0M729.5,714.5a3.7,3.7 0 1,0 7.4,0a3.7,3.7 0 1,0-7.4,0" fill="#dfeafb" fill-opacity="0.6" stroke="#4F85E0" stroke-opacity="0.9" stroke-width="1.05" stroke-linejoin="round"/>
<path d="M697.0,687.1a3.7,3.7 0 1,0 7.4,0a3.7,3.7 0 1,0-7.4,0M704.3,694.5a3.7,3.7 0 1,0 7.4,0a3.7,3.7 0 1,0-7.4,0M708.6,697.0a3.7,3.7 0 1,0 7.4,0a3.7,3.7 0 1,0-7.4,0M715.1,702.5a3.7,3.7 0 1,0 7.4,0a3.7,3.7 0 1,0-7.4,0M721.0,707.2a3.7,3.7 0 1,0 7.4,0a3.7,3.7 0 1,0-7.4,0M725.3,711.3a3.7,3.7 0 1,0 7.4,0a3.7,3.7 0 1,0-7.4,0M733.9,714.0a3.7,3.7 0 1,0 7.4,0a3.7,3.7 0 1,0-7.4,0" fill="#dfeafb" fill-opacity="0.6" stroke="#4F85E0" stroke-opacity="0.9" stroke-width="1.05" stroke-linejoin="round"/>
<path d="M699.9,690.8a3.7,3.7 0 1,0 7.4,0a3.7,3.7 0 1,0-7.4,0M704.2,693.7a3.7,3.7 0 1,0 7.4,0a3.7,3.7 0 1,0-7.4,0M711.7,699.8a3.7,3.7 0 1,0 7.4,0a3.7,3.7 0 1,0-7.4,0M717.0,704.2a3.7,3.7 0 1,0 7.4,0a3.7,3.7 0 1,0-7.4,0M721.1,709.4a3.7,3.7 0 1,0 7.4,0a3.7,3.7 0 1,0-7.4,0M729.3,714.4a3.7,3.7 0 1,0 7.4,0a3.7,3.7 0 1,0-7.4,0" fill="#dfeafb" fill-opacity="0.6" stroke="#4F85E0" stroke-opacity="0.9" stroke-width="1.05" stroke-linejoin="round"/>
<path d="M762.3,731.0a3.7,3.7 0 1,0 7.4,0a3.7,3.7 0 1,0-7.4,0M744.3,732.0a3.7,3.7 0 1,0 7.4,0a3.7,3.7 0 1,0-7.4,0" fill="#8cc4f8" fill-opacity="0.9" stroke="#4A9CF2" stroke-opacity="1.0" stroke-width="1.05" stroke-linejoin="round"/>
<path d="M772.3,727.0a3.7,3.7 0 1,0 7.4,0a3.7,3.7 0 1,0-7.4,0M766.3,724.0a3.7,3.7 0 1,0 7.4,0a3.7,3.7 0 1,0-7.4,0" fill="#8cc4f8" fill-opacity="0.9" stroke="#4A9CF2" stroke-opacity="1.0" stroke-width="1.05" stroke-linejoin="round"/>
<path d="M754.3,726.0a3.7,3.7 0 1,0 7.4,0a3.7,3.7 0 1,0-7.4,0M737.3,730.0a3.7,3.7 0 1,0 7.4,0a3.7,3.7 0 1,0-7.4,0" fill="#8cc4f8" fill-opacity="0.9" stroke="#4A9CF2" stroke-opacity="1.0" stroke-width="1.05" stroke-linejoin="round"/></g>
<text x="0" y="0" transform="translate(296.1,49.7) rotate(-71.0)" text-anchor="middle" dominant-baseline="central" style="font-family:'Liberation Sans',sans-serif;font-weight:bold;font-size:28.5px" fill="#7f7f7f">23</text>
<text x="0" y="0" transform="translate(212.7,492) rotate(-71.0)" text-anchor="middle" dominant-baseline="central" style="font-family:'Liberation Sans',sans-serif;font-weight:bold;font-size:26px" fill="#7f7f7f" textLength="54" lengthAdjust="spacingAndGlyphs">23.5</text>
<text x="0" y="0" transform="translate(407.5,176.4) rotate(-71.0)" text-anchor="middle" dominant-baseline="central" style="font-family:'Liberation Sans',sans-serif;font-weight:bold;font-size:28.5px" fill="#7f7f7f">24</text>
<text x="0" y="0" transform="translate(375.3,492) rotate(-71.0)" text-anchor="middle" dominant-baseline="central" style="font-family:'Liberation Sans',sans-serif;font-weight:bold;font-size:26px" fill="#7f7f7f" textLength="54" lengthAdjust="spacingAndGlyphs">24.5</text>
<text x="0" y="0" transform="translate(536.5,492.2) rotate(-71.0)" text-anchor="middle" dominant-baseline="central" style="font-family:'Liberation Sans',sans-serif;font-weight:bold;font-size:26px" fill="#7f7f7f" textLength="54" lengthAdjust="spacingAndGlyphs">25.5</text>
<text x="0" y="0" transform="translate(698.9,268.6) rotate(-71.0)" text-anchor="middle" dominant-baseline="central" style="font-family:'Liberation Sans',sans-serif;font-weight:bold;font-size:28.5px" fill="#7f7f7f">26</text>
<text x="0" y="0" transform="translate(779.3,490.8) rotate(-71.0)" text-anchor="middle" dominant-baseline="central" style="font-family:'Liberation Sans',sans-serif;font-weight:bold;font-size:28.5px" fill="#7f7f7f">27</text>
<text x="322.2" y="65.8" style="font-family:'Liberation Sans',sans-serif;font-weight:bold;font-size:24.4px" fill="#EF636C" textLength="36.8" lengthAdjust="spacingAndGlyphs">SW</text>
<text x="301.9" y="527.6" style="font-family:'Liberation Sans',sans-serif;font-weight:bold;font-size:24.4px" fill="#F2BA0A" textLength="54.5" lengthAdjust="spacingAndGlyphs">NCW</text>
<text x="454" y="765.4" style="font-family:'Liberation Sans',sans-serif;font-weight:bold;font-size:24px" fill="#9DC3E6" textLength="72" lengthAdjust="spacingAndGlyphs">WMW</text>
<text x="798.9" y="551" style="font-family:'Liberation Sans',sans-serif;font-weight:bold;font-size:24.4px" fill="#4EC0EE" textLength="38.8" lengthAdjust="spacingAndGlyphs">AW</text>
<text x="0" y="0" transform="translate(148,86.5) scale(0.89,1)" style="font-family:'Liberation Sans',sans-serif;font-weight:bold;font-size:56px" fill="#777">σ</text>
<text x="180.6" y="93.5" style="font-family:'Liberation Sans',sans-serif;font-size:34.6px" fill="#777">0</text>
<rect x="595" y="19" width="290" height="164" fill="#FAFAFA" stroke="#505050" stroke-width="1"/>
<circle cx="641.2" cy="44.6" r="4.4" fill="none" stroke="#8a8ad0" stroke-width="1.1"/>
<text x="692.2" y="51.4" style="font-family:'Liberation Sans',sans-serif;font-weight:bold;font-size:19px" fill="#111">Sula (P473)</text>
<circle cx="641.2" cy="83.0" r="4.4" fill="none" stroke="#b0a090" stroke-width="1.1"/>
<text x="692.2" y="89.8" style="font-family:'Liberation Sans',sans-serif;font-weight:bold;font-size:19px" fill="#111">Nord-Leksa (P473)</text>
<polygon points="641.2,116.4 646.5,125.4 635.9,125.4" fill="none" stroke="#8a8ad0" stroke-width="1.1"/>
<text x="692.2" y="128.20000000000002" style="font-family:'Liberation Sans',sans-serif;font-weight:bold;font-size:19px" fill="#111">Sula (P455)</text>
<polygon points="641.2,154.79999999999998 646.5,163.79999999999998 635.9,163.79999999999998" fill="none" stroke="#b08a70" stroke-width="1.1"/>
<text x="692.2" y="166.6" style="font-family:'Liberation Sans',sans-serif;font-weight:bold;font-size:19px" fill="#111">Nord-Leksa (P455)</text>
<rect x="129.9" y="17.9" width="757.1" height="757.2" fill="none" stroke="#000" stroke-width="3.8" stroke-linejoin="round"/>
<path d="M120,775.0H128M117,690.9H128M120,606.8H128M117,522.7H128M120,438.6H128M117,354.4H128M120,270.3H128M117,186.2H128M120,102.1H128M117,18.0H128M129.9,777V787.5M193.1,777V784M256.2,777V787.5M319.3,777V784M382.3,777V787.5M445.4,777V784M508.5,777V787.5M571.6,777V784M634.7,777V787.5M697.8,777V784M760.9,777V787.5M823.9,777V784M887.0,777V787.5" stroke="#000" stroke-width="1.6" fill="none"/>
<text x="104" y="702.4" text-anchor="end" style="font-family:'Liberation Sans',sans-serif;font-weight:bold;font-size:31px" fill="#000">8</text>
<text x="104" y="534.2" text-anchor="end" style="font-family:'Liberation Sans',sans-serif;font-weight:bold;font-size:31px" fill="#000">10</text>
<text x="104" y="365.9" text-anchor="end" style="font-family:'Liberation Sans',sans-serif;font-weight:bold;font-size:31px" fill="#000">12</text>
<text x="104" y="197.7" text-anchor="end" style="font-family:'Liberation Sans',sans-serif;font-weight:bold;font-size:31px" fill="#000">14</text>
<text x="104" y="29.5" text-anchor="end" style="font-family:'Liberation Sans',sans-serif;font-weight:bold;font-size:31px" fill="#000">16</text>
<text x="130.0" y="830.5" text-anchor="middle" style="font-family:'Liberation Sans',sans-serif;font-weight:bold;font-size:31px" fill="#000">30</text>
<text x="256.2" y="830.5" text-anchor="middle" style="font-family:'Liberation Sans',sans-serif;font-weight:bold;font-size:31px" fill="#000">31</text>
<text x="382.3" y="830.5" text-anchor="middle" style="font-family:'Liberation Sans',sans-serif;font-weight:bold;font-size:31px" fill="#000">32</text>
<text x="508.5" y="830.5" text-anchor="middle" style="font-family:'Liberation Sans',sans-serif;font-weight:bold;font-size:31px" fill="#000">33</text>
<text x="634.7" y="830.5" text-anchor="middle" style="font-family:'Liberation Sans',sans-serif;font-weight:bold;font-size:31px" fill="#000">34</text>
<text x="760.9" y="830.5" text-anchor="middle" style="font-family:'Liberation Sans',sans-serif;font-weight:bold;font-size:31px" fill="#000">35</text>
<text x="887.0" y="830.5" text-anchor="middle" style="font-family:'Liberation Sans',sans-serif;font-weight:bold;font-size:31px" fill="#000">36</text>
<text x="463.3" y="881.8" style="font-family:'Liberation Sans',sans-serif;font-weight:bold;font-size:30px" fill="#000" textLength="101" lengthAdjust="spacingAndGlyphs">Salinity</text>
<text x="0" y="0" transform="translate(29.5,591) rotate(-90)" style="font-family:'Liberation Sans',sans-serif;font-weight:bold;font-size:29.5px" fill="#000" textLength="389" lengthAdjust="spacingAndGlyphs">Potential temperature θ [°C]</text></svg></body></html>
